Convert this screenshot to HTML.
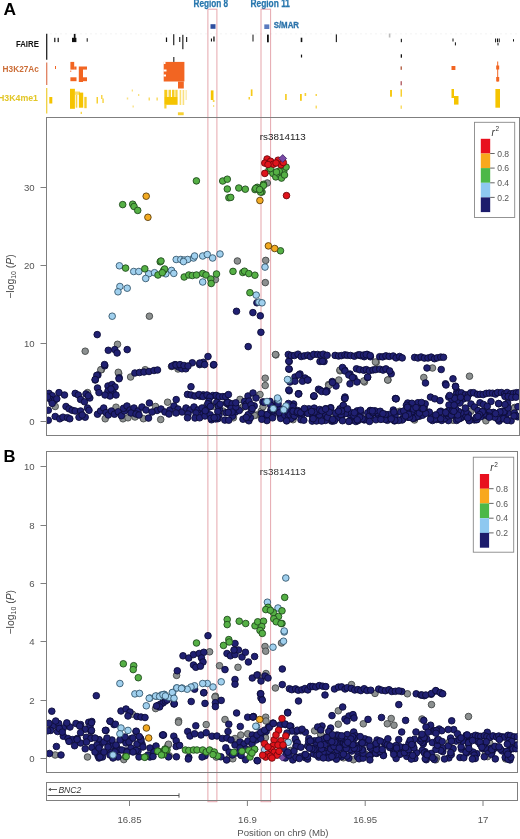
<!DOCTYPE html><html><head><meta charset="utf-8"><style>
html,body{margin:0;padding:0;background:#fff;}body{width:520px;height:839px;overflow:hidden;}
svg{display:block;filter:blur(0.35px);font-family:"Liberation Sans",sans-serif;}
.n{fill:#202072;stroke:#0c0c38;stroke-width:0.9}
.b{fill:#a0d0ee;stroke:#36586e;stroke-width:0.9}
.g{fill:#55b045;stroke:#204c1e;stroke-width:0.9}
.o{fill:#f2aa22;stroke:#5e400c;stroke-width:0.9}
.r{fill:#e0141c;stroke:#70080c;stroke-width:0.9}
.k{fill:#8c9090;stroke:#454848;stroke-width:0.9}
.ax{stroke:#7f7f7f;stroke-width:1;fill:none}
.tl{font-size:9.6px;fill:#555}
</style></head><body>
<svg width="520" height="839" viewBox="0 0 520 839">
<defs><clipPath id="cA"><rect x="47" y="118" width="472" height="318"/></clipPath><clipPath id="cB"><rect x="47" y="452" width="470.5" height="320.5"/></clipPath></defs>
<text x="3.4" y="15" font-size="17.4" font-weight="bold" fill="#000">A</text>
<text x="3.6" y="461.9" font-size="16.6" font-weight="bold" fill="#000">B</text>
<line x1="46.7" y1="33.8" x2="46.7" y2="59.8" stroke="#222" stroke-width="1.3"/>
<line x1="46.7" y1="62.5" x2="46.7" y2="85" stroke="#e08060" stroke-width="1.3"/>
<line x1="46.7" y1="88" x2="46.7" y2="113.5" stroke="#f0d040" stroke-width="1.3"/>
<text x="38.9" y="47.3" font-size="9.4" font-weight="bold" fill="#111" text-anchor="end" textLength="23" lengthAdjust="spacingAndGlyphs">FAIRE</text>
<text x="38.9" y="72.1" font-size="9.2" font-weight="bold" fill="#cc6e38" text-anchor="end" textLength="36.3" lengthAdjust="spacingAndGlyphs">H3K27Ac</text>
<text x="38" y="100.7" font-size="9.6" font-weight="bold" fill="#e2c626" text-anchor="end" textLength="40" lengthAdjust="spacingAndGlyphs">H3K4me1</text>
<line x1="50" y1="33.8" x2="519" y2="33.8" stroke="#f0f0f0" stroke-width="0.8" stroke-dasharray="2 3"/>
<rect x="54.2" y="37.8" width="1.2" height="4.3" fill="#111" opacity="1.00"/>
<rect x="57.6" y="37.8" width="1.2" height="4.3" fill="#111" opacity="1.00"/>
<rect x="73.8" y="33.9" width="1.7" height="4.1" fill="#111" opacity="1.00"/>
<rect x="86.7" y="38.2" width="1.0" height="3.5" fill="#111" opacity="1.00"/>
<rect x="165.9" y="37.5" width="1.2" height="4.5" fill="#111" opacity="1.00"/>
<rect x="173.2" y="34.2" width="1.1" height="11.0" fill="#111" opacity="1.00"/>
<rect x="179.2" y="37.0" width="1.1" height="5.0" fill="#111" opacity="1.00"/>
<rect x="182.3" y="34.8" width="1.1" height="14.4" fill="#111" opacity="1.00"/>
<rect x="186.1" y="37.0" width="1.1" height="5.0" fill="#111" opacity="1.00"/>
<rect x="210.9" y="38.5" width="1.1" height="3.0" fill="#111" opacity="1.00"/>
<rect x="213.3" y="36.5" width="1.3" height="5.0" fill="#111" opacity="1.00"/>
<rect x="252.5" y="34.6" width="1.0" height="6.9" fill="#111" opacity="1.00"/>
<rect x="267.0" y="34.6" width="1.8" height="7.7" fill="#111" opacity="1.00"/>
<rect x="300.7" y="37.7" width="1.6" height="4.4" fill="#111" opacity="1.00"/>
<rect x="300.9" y="54.6" width="1.2" height="2.9" fill="#111" opacity="1.00"/>
<rect x="335.8" y="34.4" width="1.1" height="7.7" fill="#111" opacity="1.00"/>
<rect x="400.8" y="38.8" width="1.1" height="3.4" fill="#111" opacity="1.00"/>
<rect x="400.7" y="54.3" width="1.3" height="3.4" fill="#111" opacity="1.00"/>
<rect x="452.5" y="38.5" width="1.0" height="3.0" fill="#111" opacity="1.00"/>
<rect x="454.9" y="42.3" width="1.0" height="3.1" fill="#111" opacity="1.00"/>
<rect x="495.1" y="38.5" width="1.0" height="3.8" fill="#111" opacity="1.00"/>
<rect x="497.0" y="38.5" width="1.0" height="3.8" fill="#111" opacity="1.00"/>
<rect x="498.7" y="38.5" width="1.0" height="3.8" fill="#111" opacity="1.00"/>
<rect x="497.5" y="43.0" width="1.0" height="2.4" fill="#111" opacity="1.00"/>
<rect x="513.0" y="39.2" width="1.0" height="2.3" fill="#111" opacity="1.00"/>
<rect x="72.0" y="37.8" width="4.4" height="4.3" fill="#111" opacity="1.00"/>
<rect x="388.8" y="33.5" width="1.6" height="4" fill="#bbb"/>
<rect x="55.0" y="66.0" width="1.0" height="3.0" fill="#f26522" opacity="1.00"/>
<rect x="70.4" y="61.9" width="3.8" height="7.7" fill="#f26522" opacity="1.00"/>
<rect x="74.2" y="66.5" width="2.3" height="3.1" fill="#f26522" opacity="1.00"/>
<rect x="78.8" y="66.5" width="4.2" height="15.5" fill="#f26522" opacity="1.00"/>
<rect x="83.0" y="66.5" width="4.0" height="3.1" fill="#f26522" opacity="1.00"/>
<rect x="70.4" y="77.3" width="6.1" height="3.9" fill="#f26522" opacity="1.00"/>
<rect x="83.0" y="77.3" width="4.0" height="3.9" fill="#f26522" opacity="1.00"/>
<rect x="70.4" y="70.5" width="0.8" height="1.5" fill="#f26522" opacity="1.00"/>
<rect x="163.7" y="61.9" width="20.7" height="19.6" fill="#f26522" opacity="1.00"/>
<rect x="178.0" y="81.5" width="5.8" height="7.0" fill="#f26522" opacity="1.00"/>
<rect x="451.5" y="66.0" width="3.9" height="4.0" fill="#f26522" opacity="1.00"/>
<rect x="496.2" y="65.5" width="3.0" height="4.0" fill="#f26522" opacity="1.00"/>
<rect x="496.2" y="77.0" width="3.0" height="4.5" fill="#f26522" opacity="1.00"/>
<rect x="497.2" y="61.5" width="1.0" height="20.0" fill="#f26522" opacity="1.00"/>
<rect x="163.5" y="69.5" width="3.0" height="2.0" fill="#fff" opacity="1.00"/>
<rect x="163.5" y="74.5" width="2.5" height="2.0" fill="#fff" opacity="1.00"/>
<rect x="163.5" y="61.5" width="2.0" height="2.5" fill="#fff" opacity="1.00"/>
<rect x="173.2" y="57.0" width="1.2" height="4.9" fill="#333" opacity="1.00"/>
<rect x="400.5" y="66.4" width="1.5" height="3.4" fill="#b86a50" opacity="1.00"/>
<rect x="400.5" y="81.2" width="1.5" height="4.1" fill="#b86a70" opacity="1.00"/>
<rect x="49.3" y="97.0" width="3.0" height="6.5" fill="#f5c400" opacity="1.00"/>
<rect x="70.0" y="88.8" width="4.9" height="20.0" fill="#f5c400" opacity="1.00"/>
<rect x="74.9" y="91.5" width="5.1" height="3.3" fill="#f5c400" opacity="0.60"/>
<rect x="75.7" y="94.8" width="1.6" height="12.9" fill="#f5c400" opacity="0.75"/>
<rect x="78.9" y="92.6" width="4.3" height="15.1" fill="#f5c400" opacity="1.00"/>
<rect x="84.3" y="96.9" width="2.4" height="11.3" fill="#f5c400" opacity="0.85"/>
<rect x="96.5" y="97.0" width="1.5" height="6.5" fill="#f5c400" opacity="0.80"/>
<rect x="101.0" y="95.0" width="1.5" height="4.0" fill="#f5c400" opacity="0.70"/>
<rect x="102.3" y="98.5" width="1.5" height="4.5" fill="#f5c400" opacity="0.70"/>
<rect x="126.8" y="97.5" width="1.4" height="2.0" fill="#f5c400" opacity="0.50"/>
<rect x="131.7" y="89.5" width="1.3" height="2.0" fill="#f5c400" opacity="0.50"/>
<rect x="132.5" y="105.5" width="1.3" height="2.0" fill="#f5c400" opacity="0.50"/>
<rect x="138.0" y="94.0" width="1.3" height="2.0" fill="#f5c400" opacity="0.50"/>
<rect x="80.6" y="111.8" width="1.4" height="2.2" fill="#f5c400" opacity="0.70"/>
<rect x="148.5" y="97.5" width="1.5" height="3.0" fill="#f5c400" opacity="0.60"/>
<rect x="156.4" y="97.5" width="1.5" height="3.0" fill="#f5c400" opacity="0.60"/>
<rect x="164.3" y="97.0" width="13.3" height="7.8" fill="#f5c400" opacity="1.00"/>
<rect x="164.3" y="89.8" width="3.0" height="7.2" fill="#f5c400" opacity="0.90"/>
<rect x="168.5" y="89.8" width="2.5" height="7.2" fill="#f5c400" opacity="0.80"/>
<rect x="172.0" y="89.8" width="2.5" height="7.2" fill="#f5c400" opacity="0.85"/>
<rect x="175.3" y="89.8" width="2.3" height="7.2" fill="#f5c400" opacity="0.75"/>
<rect x="164.3" y="104.8" width="2.2" height="3.7" fill="#f5c400" opacity="0.80"/>
<rect x="179.6" y="90.0" width="1.6" height="15.0" fill="#f5c400" opacity="0.55"/>
<rect x="182.6" y="90.0" width="1.6" height="15.0" fill="#f5c400" opacity="0.50"/>
<rect x="185.4" y="90.0" width="1.6" height="10.0" fill="#f5c400" opacity="0.30"/>
<rect x="177.9" y="112.3" width="5.8" height="2.9" fill="#f5c400" opacity="0.80"/>
<rect x="210.8" y="90.4" width="2.7" height="9.6" fill="#f5c400" opacity="1.00"/>
<rect x="212.8" y="100.0" width="1.7" height="2.0" fill="#f5c400" opacity="0.70"/>
<rect x="250.8" y="89.4" width="1.7" height="6.6" fill="#f5c400" opacity="0.90"/>
<rect x="248.5" y="97.0" width="1.5" height="2.5" fill="#f5c400" opacity="0.80"/>
<rect x="213.0" y="105.0" width="1.2" height="2.0" fill="#f5c400" opacity="0.50"/>
<rect x="285.0" y="94.0" width="1.8" height="6.0" fill="#f5c400" opacity="0.80"/>
<rect x="300.0" y="94.0" width="1.8" height="6.8" fill="#f5c400" opacity="0.90"/>
<rect x="304.6" y="93.0" width="1.6" height="3.0" fill="#f5c400" opacity="0.80"/>
<rect x="315.5" y="94.0" width="1.5" height="2.0" fill="#f5c400" opacity="0.70"/>
<rect x="315.5" y="105.6" width="1.5" height="2.9" fill="#f5c400" opacity="0.60"/>
<rect x="390.0" y="90.0" width="2.0" height="6.7" fill="#f5c400" opacity="0.90"/>
<rect x="400.5" y="89.3" width="1.5" height="7.4" fill="#f5c400" opacity="0.80"/>
<rect x="400.5" y="105.5" width="1.5" height="3.3" fill="#f5c400" opacity="0.60"/>
<rect x="451.5" y="89.0" width="2.5" height="9.0" fill="#f5c400" opacity="1.00"/>
<rect x="454.0" y="96.0" width="4.5" height="8.6" fill="#f5c400" opacity="1.00"/>
<rect x="495.4" y="89.0" width="4.6" height="18.7" fill="#f5c400" opacity="1.00"/>
<text x="193.5" y="6.5" font-size="10" font-weight="bold" fill="#2676ad" stroke="#2676ad" stroke-width="0.25" textLength="34.7" lengthAdjust="spacingAndGlyphs">Region 8</text>
<text x="250.5" y="6.5" font-size="10" font-weight="bold" fill="#2676ad" stroke="#2676ad" stroke-width="0.25" textLength="39.5" lengthAdjust="spacingAndGlyphs">Region 11</text>
<rect x="210.5" y="24.2" width="5" height="4.6" fill="#2f4fa0"/>
<rect x="264.3" y="24.4" width="5" height="4.6" fill="#5b7bbf"/>
<text x="273.7" y="28.3" font-size="8.5" font-weight="bold" fill="#2a72aa" stroke="#2a72aa" stroke-width="0.3" textLength="25.3" lengthAdjust="spacingAndGlyphs">S/MAR</text>
<rect x="207.9" y="9.2" width="9.0" height="792.5" fill="none" stroke="#dc8892" stroke-width="1" opacity="0.75"/>
<rect x="261.0" y="9.2" width="9.6" height="792.5" fill="none" stroke="#dc8892" stroke-width="1" opacity="0.75"/>
<rect class="ax" x="46.5" y="117.5" width="473" height="318"/>
<line class="ax" x1="40.5" y1="421.5" x2="46.5" y2="421.5"/>
<text class="tl" x="34.6" y="424.6" text-anchor="end">0</text>
<line class="ax" x1="40.5" y1="343.5" x2="46.5" y2="343.5"/>
<text class="tl" x="34.6" y="346.6" text-anchor="end">10</text>
<line class="ax" x1="40.5" y1="265.5" x2="46.5" y2="265.5"/>
<text class="tl" x="34.6" y="268.6" text-anchor="end">20</text>
<line class="ax" x1="40.5" y1="187.5" x2="46.5" y2="187.5"/>
<text class="tl" x="34.6" y="190.6" text-anchor="end">30</text>
<text x="0" y="0" font-size="10.4" fill="#444" transform="translate(13.5,276.5) rotate(-90)" text-anchor="middle">&#8722;log<tspan font-size="7" dy="2.2">10</tspan><tspan dy="-2.2"> (</tspan><tspan font-style="italic">P</tspan>)</text>
<g clip-path="url(#cA)"><circle class="k" cx="267.3" cy="183.0" r="3.3"/><circle class="k" cx="215.4" cy="279.6" r="3.3"/><circle class="k" cx="237.4" cy="261.0" r="3.3"/><circle class="k" cx="265.7" cy="260.4" r="3.3"/><circle class="k" cx="265.3" cy="282.6" r="3.3"/><circle class="k" cx="149.4" cy="316.2" r="3.3"/><circle class="k" cx="85.2" cy="351.2" r="3.3"/><circle class="k" cx="117.5" cy="344.3" r="3.3"/><circle class="k" cx="101.4" cy="369.7" r="3.3"/><circle class="k" cx="118.7" cy="373.4" r="3.3"/><circle class="k" cx="145.2" cy="369.7" r="3.3"/><circle class="k" cx="275.9" cy="354.9" r="3.3"/><circle class="k" cx="171.5" cy="366.5" r="3.3"/><circle class="k" cx="178.0" cy="369.0" r="3.3"/><circle class="k" cx="100.8" cy="369.8" r="3.3"/><circle class="k" cx="118.3" cy="372.3" r="3.3"/><circle class="k" cx="130.6" cy="377.0" r="3.3"/><circle class="k" cx="265.2" cy="378.2" r="3.3"/><circle class="k" cx="265.2" cy="385.5" r="3.3"/><circle class="k" cx="340.0" cy="370.8" r="3.3"/><circle class="k" cx="328.6" cy="384.6" r="3.3"/><circle class="k" cx="240.0" cy="399.4" r="3.3"/><circle class="k" cx="260.0" cy="394.5" r="3.3"/><circle class="k" cx="275.5" cy="354.5" r="3.3"/><circle class="k" cx="376.2" cy="362.5" r="3.3"/><circle class="k" cx="340.0" cy="370.0" r="3.3"/><circle class="k" cx="364.5" cy="382.0" r="3.3"/><circle class="k" cx="388.0" cy="380.0" r="3.3"/><circle class="k" cx="338.8" cy="380.0" r="3.3"/><circle class="k" cx="328.8" cy="385.5" r="3.3"/><circle class="k" cx="375.4" cy="362.0" r="3.3"/><circle class="k" cx="363.7" cy="381.0" r="3.3"/><circle class="k" cx="387.7" cy="380.0" r="3.3"/><circle class="k" cx="432.5" cy="368.0" r="3.3"/><circle class="k" cx="423.8" cy="377.5" r="3.3"/><circle class="k" cx="469.5" cy="376.2" r="3.3"/><circle class="k" cx="514.5" cy="407.5" r="3.3"/><circle class="k" cx="55.2" cy="406.5" r="3.3"/><circle class="k" cx="87.5" cy="392.6" r="3.3"/><circle class="k" cx="105.2" cy="418.8" r="3.3"/><circle class="k" cx="116.0" cy="407.2" r="3.3"/><circle class="k" cx="123.0" cy="418.8" r="3.3"/><circle class="k" cx="167.6" cy="402.2" r="3.3"/><circle class="k" cx="155.5" cy="406.5" r="3.3"/><circle class="k" cx="128.0" cy="417.8" r="3.3"/><circle class="k" cx="135.0" cy="417.0" r="3.3"/><circle class="k" cx="143.4" cy="418.7" r="3.3"/><circle class="k" cx="160.7" cy="419.5" r="3.3"/><circle class="k" cx="514.3" cy="408.4" r="3.3"/><circle class="k" cx="211.5" cy="405.8" r="3.3"/><circle class="k" cx="261.2" cy="411.2" r="3.3"/><circle class="k" cx="214.4" cy="406.3" r="3.3"/><circle class="k" cx="256.4" cy="415.0" r="3.3"/><circle class="k" cx="206.6" cy="406.0" r="3.3"/><circle class="k" cx="247.7" cy="419.7" r="3.3"/><circle class="k" cx="241.4" cy="408.0" r="3.3"/><circle class="k" cx="228.0" cy="404.3" r="3.3"/><circle class="k" cx="232.9" cy="408.1" r="3.3"/><circle class="k" cx="223.1" cy="411.1" r="3.3"/><circle class="k" cx="260.5" cy="413.9" r="3.3"/><circle class="k" cx="232.4" cy="412.4" r="3.3"/><circle class="k" cx="293.0" cy="419.7" r="3.3"/><circle class="k" cx="285.8" cy="410.7" r="3.3"/><circle class="k" cx="233.4" cy="417.8" r="3.3"/><circle class="k" cx="243.5" cy="406.5" r="3.3"/><circle class="k" cx="254.4" cy="415.4" r="3.3"/><circle class="k" cx="263.0" cy="406.7" r="3.3"/><circle class="k" cx="217.6" cy="404.8" r="3.3"/><circle class="k" cx="331.2" cy="416.6" r="3.3"/><circle class="k" cx="302.8" cy="411.1" r="3.3"/><circle class="k" cx="363.1" cy="418.9" r="3.3"/><circle class="k" cx="318.5" cy="413.5" r="3.3"/><circle class="k" cx="312.3" cy="411.2" r="3.3"/><circle class="k" cx="450.3" cy="414.2" r="3.3"/><circle class="k" cx="470.8" cy="411.2" r="3.3"/><circle class="k" cx="414.5" cy="420.0" r="3.3"/><circle class="k" cx="388.1" cy="418.8" r="3.3"/><circle class="k" cx="423.0" cy="414.0" r="3.3"/><circle class="k" cx="506.6" cy="412.4" r="3.3"/><circle class="k" cx="399.7" cy="411.3" r="3.3"/><circle class="k" cx="408.6" cy="412.1" r="3.3"/><circle class="k" cx="485.9" cy="420.8" r="3.3"/><circle class="k" cx="406.1" cy="409.9" r="3.3"/><circle class="k" cx="409.0" cy="405.2" r="3.3"/><circle class="k" cx="453.2" cy="420.3" r="3.3"/><circle class="n" cx="256.9" cy="302.8" r="3.3"/><circle class="n" cx="236.5" cy="311.3" r="3.3"/><circle class="n" cx="252.9" cy="312.6" r="3.3"/><circle class="n" cx="260.3" cy="315.8" r="3.3"/><circle class="n" cx="97.2" cy="334.6" r="3.3"/><circle class="n" cx="108.3" cy="350.3" r="3.3"/><circle class="n" cx="114.8" cy="349.6" r="3.3"/><circle class="n" cx="117.1" cy="353.0" r="3.3"/><circle class="n" cx="127.2" cy="349.6" r="3.3"/><circle class="n" cx="104.8" cy="365.8" r="3.3"/><circle class="n" cx="97.9" cy="375.0" r="3.3"/><circle class="n" cx="134.9" cy="373.0" r="3.3"/><circle class="n" cx="139.5" cy="372.5" r="3.3"/><circle class="n" cx="144.0" cy="372.0" r="3.3"/><circle class="n" cx="149.0" cy="371.5" r="3.3"/><circle class="n" cx="154.0" cy="370.5" r="3.3"/><circle class="n" cx="157.5" cy="370.0" r="3.3"/><circle class="n" cx="260.9" cy="332.3" r="3.3"/><circle class="n" cx="248.2" cy="346.6" r="3.3"/><circle class="n" cx="175.0" cy="364.6" r="3.3"/><circle class="n" cx="178.5" cy="367.0" r="3.3"/><circle class="n" cx="182.0" cy="368.8" r="3.3"/><circle class="n" cx="185.8" cy="368.8" r="3.3"/><circle class="n" cx="192.3" cy="362.8" r="3.3"/><circle class="n" cx="199.7" cy="364.6" r="3.3"/><circle class="n" cx="203.4" cy="362.3" r="3.3"/><circle class="n" cx="208.0" cy="356.5" r="3.3"/><circle class="n" cx="213.5" cy="365.0" r="3.3"/><circle class="n" cx="104.5" cy="364.6" r="3.3"/><circle class="n" cx="96.8" cy="375.4" r="3.3"/><circle class="n" cx="95.2" cy="380.0" r="3.3"/><circle class="n" cx="119.2" cy="377.8" r="3.3"/><circle class="n" cx="172.0" cy="366.0" r="3.3"/><circle class="n" cx="176.0" cy="365.0" r="3.3"/><circle class="n" cx="180.0" cy="364.6" r="3.3"/><circle class="n" cx="184.0" cy="365.5" r="3.3"/><circle class="n" cx="188.0" cy="366.0" r="3.3"/><circle class="n" cx="199.8" cy="363.0" r="3.3"/><circle class="n" cx="204.6" cy="364.6" r="3.3"/><circle class="n" cx="213.8" cy="364.6" r="3.3"/><circle class="n" cx="289.2" cy="361.5" r="3.3"/><circle class="n" cx="289.2" cy="369.2" r="3.3"/><circle class="n" cx="295.0" cy="377.0" r="3.3"/><circle class="n" cx="300.0" cy="374.0" r="3.3"/><circle class="n" cx="305.0" cy="378.0" r="3.3"/><circle class="n" cx="308.0" cy="380.0" r="3.3"/><circle class="n" cx="289.2" cy="390.8" r="3.3"/><circle class="n" cx="298.5" cy="393.8" r="3.3"/><circle class="n" cx="320.0" cy="361.5" r="3.3"/><circle class="n" cx="324.0" cy="361.5" r="3.3"/><circle class="n" cx="344.6" cy="370.0" r="3.3"/><circle class="n" cx="350.0" cy="374.0" r="3.3"/><circle class="n" cx="354.0" cy="378.0" r="3.3"/><circle class="n" cx="357.0" cy="382.0" r="3.3"/><circle class="n" cx="318.5" cy="389.2" r="3.3"/><circle class="n" cx="326.0" cy="390.8" r="3.3"/><circle class="n" cx="313.8" cy="396.3" r="3.3"/><circle class="n" cx="332.3" cy="381.5" r="3.3"/><circle class="n" cx="336.0" cy="386.0" r="3.3"/><circle class="n" cx="344.6" cy="398.5" r="3.3"/><circle class="n" cx="330.8" cy="407.7" r="3.3"/><circle class="n" cx="343.0" cy="406.0" r="3.3"/><circle class="n" cx="248.0" cy="396.0" r="3.3"/><circle class="n" cx="253.0" cy="393.0" r="3.3"/><circle class="n" cx="256.0" cy="398.0" r="3.3"/><circle class="n" cx="288.8" cy="361.2" r="3.3"/><circle class="n" cx="288.8" cy="368.8" r="3.3"/><circle class="n" cx="322.5" cy="361.2" r="3.3"/><circle class="n" cx="342.5" cy="367.5" r="3.3"/><circle class="n" cx="345.0" cy="371.0" r="3.3"/><circle class="n" cx="348.8" cy="375.0" r="3.3"/><circle class="n" cx="352.5" cy="377.5" r="3.3"/><circle class="n" cx="367.5" cy="377.5" r="3.3"/><circle class="n" cx="290.0" cy="382.0" r="3.3"/><circle class="n" cx="298.8" cy="375.0" r="3.3"/><circle class="n" cx="295.0" cy="381.2" r="3.3"/><circle class="n" cx="302.5" cy="381.2" r="3.3"/><circle class="n" cx="307.5" cy="380.0" r="3.3"/><circle class="n" cx="332.5" cy="382.5" r="3.3"/><circle class="n" cx="350.0" cy="383.8" r="3.3"/><circle class="n" cx="288.8" cy="390.0" r="3.3"/><circle class="n" cx="298.8" cy="393.8" r="3.3"/><circle class="n" cx="313.8" cy="396.2" r="3.3"/><circle class="n" cx="320.0" cy="390.0" r="3.3"/><circle class="n" cx="327.0" cy="391.2" r="3.3"/><circle class="n" cx="345.0" cy="397.0" r="3.3"/><circle class="n" cx="367.7" cy="377.0" r="3.3"/><circle class="n" cx="427.0" cy="368.0" r="3.3"/><circle class="n" cx="441.2" cy="369.5" r="3.3"/><circle class="n" cx="391.2" cy="373.8" r="3.3"/><circle class="n" cx="425.5" cy="383.0" r="3.3"/><circle class="n" cx="445.5" cy="383.8" r="3.3"/><circle class="n" cx="453.0" cy="378.8" r="3.3"/><circle class="n" cx="455.5" cy="386.2" r="3.3"/><circle class="n" cx="457.0" cy="391.2" r="3.3"/><circle class="n" cx="396.2" cy="398.8" r="3.3"/><circle class="n" cx="498.8" cy="403.8" r="3.3"/><circle class="n" cx="395.4" cy="398.5" r="3.3"/><circle class="n" cx="288.3" cy="354.5" r="3.3"/><circle class="n" cx="291.2" cy="355.6" r="3.3"/><circle class="n" cx="294.4" cy="355.5" r="3.3"/><circle class="n" cx="298.0" cy="354.2" r="3.3"/><circle class="n" cx="301.2" cy="356.5" r="3.3"/><circle class="n" cx="304.2" cy="355.9" r="3.3"/><circle class="n" cx="307.8" cy="355.2" r="3.3"/><circle class="n" cx="310.4" cy="356.6" r="3.3"/><circle class="n" cx="313.7" cy="354.4" r="3.3"/><circle class="n" cx="317.7" cy="354.5" r="3.3"/><circle class="n" cx="320.7" cy="355.1" r="3.3"/><circle class="n" cx="323.2" cy="354.2" r="3.3"/><circle class="n" cx="327.1" cy="355.3" r="3.3"/><circle class="n" cx="335.1" cy="355.4" r="3.3"/><circle class="n" cx="338.6" cy="356.0" r="3.3"/><circle class="n" cx="341.5" cy="355.6" r="3.3"/><circle class="n" cx="344.9" cy="354.9" r="3.3"/><circle class="n" cx="347.3" cy="355.3" r="3.3"/><circle class="n" cx="350.6" cy="355.5" r="3.3"/><circle class="n" cx="354.4" cy="356.2" r="3.3"/><circle class="n" cx="357.9" cy="355.0" r="3.3"/><circle class="n" cx="360.7" cy="355.7" r="3.3"/><circle class="n" cx="364.2" cy="356.7" r="3.3"/><circle class="n" cx="367.2" cy="354.4" r="3.3"/><circle class="n" cx="370.4" cy="356.8" r="3.3"/><circle class="n" cx="379.7" cy="356.7" r="3.3"/><circle class="n" cx="382.6" cy="356.9" r="3.3"/><circle class="n" cx="385.9" cy="355.9" r="3.3"/><circle class="n" cx="389.2" cy="356.4" r="3.3"/><circle class="n" cx="393.2" cy="356.0" r="3.3"/><circle class="n" cx="396.1" cy="357.9" r="3.3"/><circle class="n" cx="399.6" cy="356.5" r="3.3"/><circle class="n" cx="402.2" cy="357.9" r="3.3"/><circle class="n" cx="414.6" cy="357.4" r="3.3"/><circle class="n" cx="417.9" cy="358.0" r="3.3"/><circle class="n" cx="421.1" cy="357.0" r="3.3"/><circle class="n" cx="424.4" cy="358.1" r="3.3"/><circle class="n" cx="428.0" cy="358.0" r="3.3"/><circle class="n" cx="431.2" cy="357.1" r="3.3"/><circle class="n" cx="434.5" cy="358.7" r="3.3"/><circle class="n" cx="437.3" cy="357.8" r="3.3"/><circle class="n" cx="440.8" cy="357.1" r="3.3"/><circle class="n" cx="443.5" cy="357.3" r="3.3"/><circle class="n" cx="356.5" cy="368.8" r="3.3"/><circle class="n" cx="359.7" cy="369.7" r="3.3"/><circle class="n" cx="363.8" cy="370.3" r="3.3"/><circle class="n" cx="366.3" cy="369.6" r="3.3"/><circle class="n" cx="369.3" cy="370.8" r="3.3"/><circle class="n" cx="373.0" cy="370.0" r="3.3"/><circle class="n" cx="375.7" cy="369.6" r="3.3"/><circle class="n" cx="379.8" cy="369.2" r="3.3"/><circle class="n" cx="383.1" cy="370.1" r="3.3"/><circle class="n" cx="385.9" cy="368.9" r="3.3"/><circle class="n" cx="389.6" cy="370.9" r="3.3"/><circle class="n" cx="359.7" cy="354.8" r="3.3"/><circle class="n" cx="363.5" cy="355.1" r="3.3"/><circle class="n" cx="366.2" cy="354.6" r="3.3"/><circle class="n" cx="370.2" cy="355.6" r="3.3"/><circle class="n" cx="456.4" cy="394.1" r="3.3"/><circle class="n" cx="459.0" cy="393.1" r="3.3"/><circle class="n" cx="461.4" cy="392.9" r="3.3"/><circle class="n" cx="465.2" cy="394.7" r="3.3"/><circle class="n" cx="468.5" cy="394.8" r="3.3"/><circle class="n" cx="470.8" cy="392.8" r="3.3"/><circle class="n" cx="473.6" cy="392.7" r="3.3"/><circle class="n" cx="477.5" cy="394.4" r="3.3"/><circle class="n" cx="480.2" cy="394.3" r="3.3"/><circle class="n" cx="483.2" cy="394.6" r="3.3"/><circle class="n" cx="486.3" cy="393.4" r="3.3"/><circle class="n" cx="489.3" cy="393.1" r="3.3"/><circle class="n" cx="492.6" cy="393.2" r="3.3"/><circle class="n" cx="495.5" cy="394.1" r="3.3"/><circle class="n" cx="497.6" cy="392.6" r="3.3"/><circle class="n" cx="501.4" cy="392.6" r="3.3"/><circle class="n" cx="504.6" cy="393.9" r="3.3"/><circle class="n" cx="507.1" cy="392.5" r="3.3"/><circle class="n" cx="510.6" cy="393.9" r="3.3"/><circle class="n" cx="513.5" cy="393.3" r="3.3"/><circle class="n" cx="516.4" cy="392.7" r="3.3"/><circle class="n" cx="518.8" cy="392.8" r="3.3"/><circle class="n" cx="455.7" cy="397.8" r="3.3"/><circle class="n" cx="460.1" cy="397.6" r="3.3"/><circle class="n" cx="463.3" cy="399.0" r="3.3"/><circle class="n" cx="467.3" cy="398.0" r="3.3"/><circle class="n" cx="505.0" cy="396.5" r="3.3"/><circle class="n" cx="508.2" cy="396.5" r="3.3"/><circle class="n" cx="511.8" cy="397.4" r="3.3"/><circle class="n" cx="515.9" cy="397.2" r="3.3"/><circle class="n" cx="200.1" cy="396.2" r="3.3"/><circle class="n" cx="203.3" cy="394.9" r="3.3"/><circle class="n" cx="206.7" cy="395.5" r="3.3"/><circle class="n" cx="209.9" cy="396.5" r="3.3"/><circle class="n" cx="212.9" cy="395.5" r="3.3"/><circle class="n" cx="216.2" cy="395.4" r="3.3"/><circle class="n" cx="219.2" cy="396.6" r="3.3"/><circle class="n" cx="222.9" cy="396.6" r="3.3"/><circle class="n" cx="225.7" cy="396.6" r="3.3"/><circle class="n" cx="228.4" cy="394.6" r="3.3"/><circle class="n" cx="95.2" cy="379.5" r="3.3"/><circle class="n" cx="119.0" cy="378.8" r="3.3"/><circle class="n" cx="97.5" cy="388.0" r="3.3"/><circle class="n" cx="99.0" cy="392.6" r="3.3"/><circle class="n" cx="108.0" cy="386.0" r="3.3"/><circle class="n" cx="112.0" cy="384.5" r="3.3"/><circle class="n" cx="115.0" cy="387.0" r="3.3"/><circle class="n" cx="108.0" cy="391.0" r="3.3"/><circle class="n" cx="113.0" cy="392.0" r="3.3"/><circle class="n" cx="110.0" cy="396.0" r="3.3"/><circle class="n" cx="116.0" cy="395.0" r="3.3"/><circle class="n" cx="105.0" cy="395.0" r="3.3"/><circle class="n" cx="111.0" cy="389.0" r="3.3"/><circle class="n" cx="49.0" cy="393.4" r="3.3"/><circle class="n" cx="52.2" cy="395.7" r="3.3"/><circle class="n" cx="50.6" cy="399.5" r="3.3"/><circle class="n" cx="54.5" cy="400.3" r="3.3"/><circle class="n" cx="56.8" cy="398.8" r="3.3"/><circle class="n" cx="59.0" cy="392.6" r="3.3"/><circle class="n" cx="64.5" cy="395.0" r="3.3"/><circle class="n" cx="52.2" cy="403.4" r="3.3"/><circle class="n" cx="47.5" cy="397.0" r="3.3"/><circle class="n" cx="75.2" cy="393.4" r="3.3"/><circle class="n" cx="78.3" cy="395.0" r="3.3"/><circle class="n" cx="86.0" cy="394.0" r="3.3"/><circle class="n" cx="80.6" cy="399.5" r="3.3"/><circle class="n" cx="84.5" cy="401.8" r="3.3"/><circle class="n" cx="89.8" cy="398.0" r="3.3"/><circle class="n" cx="88.3" cy="395.7" r="3.3"/><circle class="n" cx="48.3" cy="410.3" r="3.3"/><circle class="n" cx="66.0" cy="406.5" r="3.3"/><circle class="n" cx="69.0" cy="408.8" r="3.3"/><circle class="n" cx="72.2" cy="410.3" r="3.3"/><circle class="n" cx="75.2" cy="411.0" r="3.3"/><circle class="n" cx="80.6" cy="411.0" r="3.3"/><circle class="n" cx="87.5" cy="408.0" r="3.3"/><circle class="n" cx="89.0" cy="410.3" r="3.3"/><circle class="n" cx="48.3" cy="420.3" r="3.3"/><circle class="n" cx="55.2" cy="416.5" r="3.3"/><circle class="n" cx="59.8" cy="418.8" r="3.3"/><circle class="n" cx="63.0" cy="417.2" r="3.3"/><circle class="n" cx="67.5" cy="417.7" r="3.3"/><circle class="n" cx="69.8" cy="418.8" r="3.3"/><circle class="n" cx="79.0" cy="417.2" r="3.3"/><circle class="n" cx="85.2" cy="417.2" r="3.3"/><circle class="n" cx="82.2" cy="415.0" r="3.3"/><circle class="n" cx="97.5" cy="414.2" r="3.3"/><circle class="n" cx="100.6" cy="411.0" r="3.3"/><circle class="n" cx="103.7" cy="408.0" r="3.3"/><circle class="n" cx="106.0" cy="412.6" r="3.3"/><circle class="n" cx="108.3" cy="415.0" r="3.3"/><circle class="n" cx="111.4" cy="411.0" r="3.3"/><circle class="n" cx="114.5" cy="414.2" r="3.3"/><circle class="n" cx="118.3" cy="411.8" r="3.3"/><circle class="n" cx="121.4" cy="415.7" r="3.3"/><circle class="n" cx="124.5" cy="411.0" r="3.3"/><circle class="n" cx="191.0" cy="386.7" r="3.3"/><circle class="n" cx="187.5" cy="394.4" r="3.3"/><circle class="n" cx="191.0" cy="395.0" r="3.3"/><circle class="n" cx="195.0" cy="396.0" r="3.3"/><circle class="n" cx="199.0" cy="394.5" r="3.3"/><circle class="n" cx="203.0" cy="396.5" r="3.3"/><circle class="n" cx="207.0" cy="395.0" r="3.3"/><circle class="n" cx="210.0" cy="397.0" r="3.3"/><circle class="n" cx="149.4" cy="403.0" r="3.3"/><circle class="n" cx="176.2" cy="399.6" r="3.3"/><circle class="n" cx="123.5" cy="408.3" r="3.3"/><circle class="n" cx="127.0" cy="406.0" r="3.3"/><circle class="n" cx="130.0" cy="410.0" r="3.3"/><circle class="n" cx="134.0" cy="408.0" r="3.3"/><circle class="n" cx="138.0" cy="411.0" r="3.3"/><circle class="n" cx="142.0" cy="407.0" r="3.3"/><circle class="n" cx="146.0" cy="410.0" r="3.3"/><circle class="n" cx="157.0" cy="410.5" r="3.3"/><circle class="n" cx="161.0" cy="409.0" r="3.3"/><circle class="n" cx="165.0" cy="412.0" r="3.3"/><circle class="n" cx="170.0" cy="410.0" r="3.3"/><circle class="n" cx="174.0" cy="406.0" r="3.3"/><circle class="n" cx="178.0" cy="409.0" r="3.3"/><circle class="n" cx="182.0" cy="412.0" r="3.3"/><circle class="n" cx="186.0" cy="408.0" r="3.3"/><circle class="n" cx="190.0" cy="410.0" r="3.3"/><circle class="n" cx="194.0" cy="407.0" r="3.3"/><circle class="n" cx="198.0" cy="410.0" r="3.3"/><circle class="n" cx="202.0" cy="408.0" r="3.3"/><circle class="n" cx="206.0" cy="411.0" r="3.3"/><circle class="n" cx="209.0" cy="407.0" r="3.3"/><circle class="n" cx="131.0" cy="413.0" r="3.3"/><circle class="n" cx="136.0" cy="414.0" r="3.3"/><circle class="n" cx="152.0" cy="412.0" r="3.3"/><circle class="n" cx="169.0" cy="414.0" r="3.3"/><circle class="n" cx="176.0" cy="413.0" r="3.3"/><circle class="n" cx="188.0" cy="414.0" r="3.3"/><circle class="n" cx="196.0" cy="413.0" r="3.3"/><circle class="n" cx="203.0" cy="414.0" r="3.3"/><circle class="n" cx="139.0" cy="415.0" r="3.3"/><circle class="n" cx="148.5" cy="418.1" r="3.3"/><circle class="n" cx="187.5" cy="417.8" r="3.3"/><circle class="n" cx="195.0" cy="418.0" r="3.3"/><circle class="n" cx="199.6" cy="417.8" r="3.3"/><circle class="n" cx="205.0" cy="416.0" r="3.3"/><circle class="n" cx="298.4" cy="394.0" r="3.3"/><circle class="n" cx="314.0" cy="395.8" r="3.3"/><circle class="n" cx="321.7" cy="391.5" r="3.3"/><circle class="n" cx="326.0" cy="392.0" r="3.3"/><circle class="n" cx="345.0" cy="398.4" r="3.3"/><circle class="n" cx="330.4" cy="408.0" r="3.3"/><circle class="n" cx="340.0" cy="408.8" r="3.3"/><circle class="n" cx="343.4" cy="405.3" r="3.3"/><circle class="n" cx="308.8" cy="408.8" r="3.3"/><circle class="n" cx="297.5" cy="410.5" r="3.3"/><circle class="n" cx="370.2" cy="410.5" r="3.3"/><circle class="n" cx="395.9" cy="398.8" r="3.3"/><circle class="n" cx="393.3" cy="410.0" r="3.3"/><circle class="n" cx="430.5" cy="397.1" r="3.3"/><circle class="n" cx="434.8" cy="398.8" r="3.3"/><circle class="n" cx="440.0" cy="400.6" r="3.3"/><circle class="n" cx="448.7" cy="397.1" r="3.3"/><circle class="n" cx="452.0" cy="399.7" r="3.3"/><circle class="n" cx="455.6" cy="386.7" r="3.3"/><circle class="n" cx="446.0" cy="385.0" r="3.3"/><circle class="n" cx="498.6" cy="403.5" r="3.3"/><circle class="n" cx="480.0" cy="402.8" r="3.3"/><circle class="n" cx="483.5" cy="404.5" r="3.3"/><circle class="n" cx="491.0" cy="401.5" r="3.3"/><circle class="n" cx="471.0" cy="404.0" r="3.3"/><circle class="n" cx="449.0" cy="405.0" r="3.3"/><circle class="n" cx="460.0" cy="403.0" r="3.3"/><circle class="n" cx="474.5" cy="407.0" r="3.3"/><circle class="n" cx="487.3" cy="406.3" r="3.3"/><circle class="n" cx="478.0" cy="410.6" r="3.3"/><circle class="n" cx="265.3" cy="416.7" r="3.3"/><circle class="n" cx="218.9" cy="415.3" r="3.3"/><circle class="n" cx="217.9" cy="418.7" r="3.3"/><circle class="n" cx="224.8" cy="420.1" r="3.3"/><circle class="n" cx="248.9" cy="420.8" r="3.3"/><circle class="n" cx="219.5" cy="409.6" r="3.3"/><circle class="n" cx="235.5" cy="404.9" r="3.3"/><circle class="n" cx="270.0" cy="401.4" r="3.3"/><circle class="n" cx="244.6" cy="401.4" r="3.3"/><circle class="n" cx="293.7" cy="416.8" r="3.3"/><circle class="n" cx="275.1" cy="406.4" r="3.3"/><circle class="n" cx="243.0" cy="419.2" r="3.3"/><circle class="n" cx="228.3" cy="404.0" r="3.3"/><circle class="n" cx="210.2" cy="414.8" r="3.3"/><circle class="n" cx="211.5" cy="419.8" r="3.3"/><circle class="n" cx="277.1" cy="402.7" r="3.3"/><circle class="n" cx="211.0" cy="418.3" r="3.3"/><circle class="n" cx="235.5" cy="412.1" r="3.3"/><circle class="n" cx="229.1" cy="403.6" r="3.3"/><circle class="n" cx="226.5" cy="403.2" r="3.3"/><circle class="n" cx="209.5" cy="405.0" r="3.3"/><circle class="n" cx="232.5" cy="416.2" r="3.3"/><circle class="n" cx="250.0" cy="404.6" r="3.3"/><circle class="n" cx="271.0" cy="412.0" r="3.3"/><circle class="n" cx="278.7" cy="409.6" r="3.3"/><circle class="n" cx="280.1" cy="408.9" r="3.3"/><circle class="n" cx="266.9" cy="420.6" r="3.3"/><circle class="n" cx="279.9" cy="415.1" r="3.3"/><circle class="n" cx="216.7" cy="402.4" r="3.3"/><circle class="n" cx="280.7" cy="418.4" r="3.3"/><circle class="n" cx="230.4" cy="405.8" r="3.3"/><circle class="n" cx="246.4" cy="404.2" r="3.3"/><circle class="n" cx="228.7" cy="420.2" r="3.3"/><circle class="n" cx="254.2" cy="405.9" r="3.3"/><circle class="n" cx="239.3" cy="410.5" r="3.3"/><circle class="n" cx="228.8" cy="402.8" r="3.3"/><circle class="n" cx="208.8" cy="401.4" r="3.3"/><circle class="n" cx="226.0" cy="412.7" r="3.3"/><circle class="n" cx="272.5" cy="414.2" r="3.3"/><circle class="n" cx="284.1" cy="408.8" r="3.3"/><circle class="n" cx="293.6" cy="404.0" r="3.3"/><circle class="n" cx="262.9" cy="401.9" r="3.3"/><circle class="n" cx="285.3" cy="413.5" r="3.3"/><circle class="n" cx="278.1" cy="403.8" r="3.3"/><circle class="n" cx="250.4" cy="417.7" r="3.3"/><circle class="n" cx="279.4" cy="412.7" r="3.3"/><circle class="n" cx="266.5" cy="414.9" r="3.3"/><circle class="n" cx="207.8" cy="403.7" r="3.3"/><circle class="n" cx="214.4" cy="417.7" r="3.3"/><circle class="n" cx="261.5" cy="413.5" r="3.3"/><circle class="n" cx="249.0" cy="401.1" r="3.3"/><circle class="n" cx="272.3" cy="411.1" r="3.3"/><circle class="n" cx="264.3" cy="402.3" r="3.3"/><circle class="n" cx="227.7" cy="402.5" r="3.3"/><circle class="n" cx="270.6" cy="405.1" r="3.3"/><circle class="n" cx="292.8" cy="410.9" r="3.3"/><circle class="n" cx="248.1" cy="414.7" r="3.3"/><circle class="n" cx="218.3" cy="406.1" r="3.3"/><circle class="n" cx="210.5" cy="406.4" r="3.3"/><circle class="n" cx="267.3" cy="414.5" r="3.3"/><circle class="n" cx="251.5" cy="410.3" r="3.3"/><circle class="n" cx="215.7" cy="418.9" r="3.3"/><circle class="n" cx="246.3" cy="417.4" r="3.3"/><circle class="n" cx="245.5" cy="406.4" r="3.3"/><circle class="n" cx="290.1" cy="405.2" r="3.3"/><circle class="n" cx="217.8" cy="411.5" r="3.3"/><circle class="n" cx="216.9" cy="417.4" r="3.3"/><circle class="n" cx="284.8" cy="415.1" r="3.3"/><circle class="n" cx="205.3" cy="410.8" r="3.3"/><circle class="n" cx="232.2" cy="403.8" r="3.3"/><circle class="n" cx="272.6" cy="417.8" r="3.3"/><circle class="n" cx="288.4" cy="415.3" r="3.3"/><circle class="n" cx="231.1" cy="408.4" r="3.3"/><circle class="n" cx="294.9" cy="412.8" r="3.3"/><circle class="n" cx="214.2" cy="417.7" r="3.3"/><circle class="n" cx="289.2" cy="406.0" r="3.3"/><circle class="n" cx="251.0" cy="404.8" r="3.3"/><circle class="n" cx="291.1" cy="418.7" r="3.3"/><circle class="n" cx="261.8" cy="419.3" r="3.3"/><circle class="n" cx="270.9" cy="410.0" r="3.3"/><circle class="n" cx="288.4" cy="403.5" r="3.3"/><circle class="n" cx="235.9" cy="407.0" r="3.3"/><circle class="n" cx="292.9" cy="406.2" r="3.3"/><circle class="n" cx="232.1" cy="412.1" r="3.3"/><circle class="n" cx="220.1" cy="404.2" r="3.3"/><circle class="n" cx="286.5" cy="410.9" r="3.3"/><circle class="n" cx="286.6" cy="420.9" r="3.3"/><circle class="n" cx="235.8" cy="402.8" r="3.3"/><circle class="n" cx="228.3" cy="412.4" r="3.3"/><circle class="n" cx="272.5" cy="409.3" r="3.3"/><circle class="n" cx="252.2" cy="408.5" r="3.3"/><circle class="n" cx="295.6" cy="413.6" r="3.3"/><circle class="n" cx="301.3" cy="416.0" r="3.3"/><circle class="n" cx="367.7" cy="412.9" r="3.3"/><circle class="n" cx="312.4" cy="414.9" r="3.3"/><circle class="n" cx="375.9" cy="419.8" r="3.3"/><circle class="n" cx="292.0" cy="410.9" r="3.3"/><circle class="n" cx="370.6" cy="415.7" r="3.3"/><circle class="n" cx="290.0" cy="414.8" r="3.3"/><circle class="n" cx="364.3" cy="419.9" r="3.3"/><circle class="n" cx="312.4" cy="411.7" r="3.3"/><circle class="n" cx="337.0" cy="418.0" r="3.3"/><circle class="n" cx="355.0" cy="417.6" r="3.3"/><circle class="n" cx="360.4" cy="413.1" r="3.3"/><circle class="n" cx="348.1" cy="413.8" r="3.3"/><circle class="n" cx="312.7" cy="417.5" r="3.3"/><circle class="n" cx="300.1" cy="411.3" r="3.3"/><circle class="n" cx="342.5" cy="414.8" r="3.3"/><circle class="n" cx="344.1" cy="410.6" r="3.3"/><circle class="n" cx="331.5" cy="421.0" r="3.3"/><circle class="n" cx="369.5" cy="415.7" r="3.3"/><circle class="n" cx="312.2" cy="421.1" r="3.3"/><circle class="n" cx="317.7" cy="410.7" r="3.3"/><circle class="n" cx="350.7" cy="415.1" r="3.3"/><circle class="n" cx="350.1" cy="420.7" r="3.3"/><circle class="n" cx="293.1" cy="414.2" r="3.3"/><circle class="n" cx="351.4" cy="412.7" r="3.3"/><circle class="n" cx="356.5" cy="416.1" r="3.3"/><circle class="n" cx="377.3" cy="413.9" r="3.3"/><circle class="n" cx="310.8" cy="412.9" r="3.3"/><circle class="n" cx="316.5" cy="421.0" r="3.3"/><circle class="n" cx="306.9" cy="413.0" r="3.3"/><circle class="n" cx="349.9" cy="420.9" r="3.3"/><circle class="n" cx="325.4" cy="412.8" r="3.3"/><circle class="n" cx="325.4" cy="420.4" r="3.3"/><circle class="n" cx="355.9" cy="421.5" r="3.3"/><circle class="n" cx="319.6" cy="412.5" r="3.3"/><circle class="n" cx="357.2" cy="410.9" r="3.3"/><circle class="n" cx="324.1" cy="414.6" r="3.3"/><circle class="n" cx="305.2" cy="410.5" r="3.3"/><circle class="n" cx="321.6" cy="421.0" r="3.3"/><circle class="n" cx="376.8" cy="412.8" r="3.3"/><circle class="n" cx="363.9" cy="419.5" r="3.3"/><circle class="n" cx="294.4" cy="415.7" r="3.3"/><circle class="n" cx="372.8" cy="412.6" r="3.3"/><circle class="n" cx="370.7" cy="410.8" r="3.3"/><circle class="n" cx="293.1" cy="411.2" r="3.3"/><circle class="n" cx="313.1" cy="418.7" r="3.3"/><circle class="n" cx="320.5" cy="413.5" r="3.3"/><circle class="n" cx="345.5" cy="413.4" r="3.3"/><circle class="n" cx="358.0" cy="420.6" r="3.3"/><circle class="n" cx="374.9" cy="410.8" r="3.3"/><circle class="n" cx="332.8" cy="421.0" r="3.3"/><circle class="n" cx="324.8" cy="413.3" r="3.3"/><circle class="n" cx="334.4" cy="420.7" r="3.3"/><circle class="n" cx="362.2" cy="418.6" r="3.3"/><circle class="n" cx="359.6" cy="417.2" r="3.3"/><circle class="n" cx="318.8" cy="414.5" r="3.3"/><circle class="n" cx="297.1" cy="412.7" r="3.3"/><circle class="n" cx="339.7" cy="414.1" r="3.3"/><circle class="n" cx="369.5" cy="421.4" r="3.3"/><circle class="n" cx="297.6" cy="411.6" r="3.3"/><circle class="n" cx="353.9" cy="415.4" r="3.3"/><circle class="n" cx="327.5" cy="417.3" r="3.3"/><circle class="n" cx="357.3" cy="419.8" r="3.3"/><circle class="n" cx="300.9" cy="419.7" r="3.3"/><circle class="n" cx="341.0" cy="414.6" r="3.3"/><circle class="n" cx="307.9" cy="413.2" r="3.3"/><circle class="n" cx="303.8" cy="420.2" r="3.3"/><circle class="n" cx="319.4" cy="414.9" r="3.3"/><circle class="n" cx="335.7" cy="413.0" r="3.3"/><circle class="n" cx="348.8" cy="421.4" r="3.3"/><circle class="n" cx="332.7" cy="419.5" r="3.3"/><circle class="n" cx="372.3" cy="410.9" r="3.3"/><circle class="n" cx="300.7" cy="412.6" r="3.3"/><circle class="n" cx="342.5" cy="420.7" r="3.3"/><circle class="n" cx="360.6" cy="410.2" r="3.3"/><circle class="n" cx="354.4" cy="412.7" r="3.3"/><circle class="n" cx="341.7" cy="411.1" r="3.3"/><circle class="n" cx="325.8" cy="408.7" r="3.3"/><circle class="n" cx="317.8" cy="411.0" r="3.3"/><circle class="n" cx="314.2" cy="408.1" r="3.3"/><circle class="n" cx="347.5" cy="408.9" r="3.3"/><circle class="n" cx="314.2" cy="412.0" r="3.3"/><circle class="n" cx="304.4" cy="408.5" r="3.3"/><circle class="n" cx="338.5" cy="411.2" r="3.3"/><circle class="n" cx="311.5" cy="411.5" r="3.3"/><circle class="n" cx="319.8" cy="409.5" r="3.3"/><circle class="n" cx="321.9" cy="410.8" r="3.3"/><circle class="n" cx="329.2" cy="412.3" r="3.3"/><circle class="n" cx="325.5" cy="409.0" r="3.3"/><circle class="n" cx="408.3" cy="411.1" r="3.3"/><circle class="n" cx="438.9" cy="419.2" r="3.3"/><circle class="n" cx="502.7" cy="415.6" r="3.3"/><circle class="n" cx="382.1" cy="416.5" r="3.3"/><circle class="n" cx="506.5" cy="411.9" r="3.3"/><circle class="n" cx="431.5" cy="416.0" r="3.3"/><circle class="n" cx="419.4" cy="416.2" r="3.3"/><circle class="n" cx="395.1" cy="415.9" r="3.3"/><circle class="n" cx="514.4" cy="413.0" r="3.3"/><circle class="n" cx="511.1" cy="420.8" r="3.3"/><circle class="n" cx="387.4" cy="420.3" r="3.3"/><circle class="n" cx="505.7" cy="417.2" r="3.3"/><circle class="n" cx="402.3" cy="418.9" r="3.3"/><circle class="n" cx="436.2" cy="419.5" r="3.3"/><circle class="n" cx="405.4" cy="413.2" r="3.3"/><circle class="n" cx="452.0" cy="414.8" r="3.3"/><circle class="n" cx="414.3" cy="418.2" r="3.3"/><circle class="n" cx="385.7" cy="416.6" r="3.3"/><circle class="n" cx="385.3" cy="419.4" r="3.3"/><circle class="n" cx="463.3" cy="416.5" r="3.3"/><circle class="n" cx="422.6" cy="415.2" r="3.3"/><circle class="n" cx="439.2" cy="417.6" r="3.3"/><circle class="n" cx="440.9" cy="411.2" r="3.3"/><circle class="n" cx="448.0" cy="413.4" r="3.3"/><circle class="n" cx="488.4" cy="415.6" r="3.3"/><circle class="n" cx="445.8" cy="412.1" r="3.3"/><circle class="n" cx="439.9" cy="411.9" r="3.3"/><circle class="n" cx="450.9" cy="411.4" r="3.3"/><circle class="n" cx="391.4" cy="418.3" r="3.3"/><circle class="n" cx="451.1" cy="411.5" r="3.3"/><circle class="n" cx="432.5" cy="420.5" r="3.3"/><circle class="n" cx="499.1" cy="421.0" r="3.3"/><circle class="n" cx="493.3" cy="412.9" r="3.3"/><circle class="n" cx="448.4" cy="420.6" r="3.3"/><circle class="n" cx="403.0" cy="418.9" r="3.3"/><circle class="n" cx="389.1" cy="414.5" r="3.3"/><circle class="n" cx="402.1" cy="420.0" r="3.3"/><circle class="n" cx="493.4" cy="412.4" r="3.3"/><circle class="n" cx="507.9" cy="413.1" r="3.3"/><circle class="n" cx="405.3" cy="412.6" r="3.3"/><circle class="n" cx="474.5" cy="420.0" r="3.3"/><circle class="n" cx="489.1" cy="412.2" r="3.3"/><circle class="n" cx="468.4" cy="414.6" r="3.3"/><circle class="n" cx="457.2" cy="416.8" r="3.3"/><circle class="n" cx="394.5" cy="420.9" r="3.3"/><circle class="n" cx="434.8" cy="419.0" r="3.3"/><circle class="n" cx="517.7" cy="416.8" r="3.3"/><circle class="n" cx="486.3" cy="415.4" r="3.3"/><circle class="n" cx="483.4" cy="411.5" r="3.3"/><circle class="n" cx="415.3" cy="417.4" r="3.3"/><circle class="n" cx="461.4" cy="417.6" r="3.3"/><circle class="n" cx="380.2" cy="411.3" r="3.3"/><circle class="n" cx="465.6" cy="415.3" r="3.3"/><circle class="n" cx="504.5" cy="412.3" r="3.3"/><circle class="n" cx="429.3" cy="412.1" r="3.3"/><circle class="n" cx="411.2" cy="416.8" r="3.3"/><circle class="n" cx="408.4" cy="417.2" r="3.3"/><circle class="n" cx="398.7" cy="420.4" r="3.3"/><circle class="n" cx="400.8" cy="412.0" r="3.3"/><circle class="n" cx="501.1" cy="418.8" r="3.3"/><circle class="n" cx="416.7" cy="411.1" r="3.3"/><circle class="n" cx="458.2" cy="414.5" r="3.3"/><circle class="n" cx="441.7" cy="420.4" r="3.3"/><circle class="n" cx="453.9" cy="415.1" r="3.3"/><circle class="n" cx="456.6" cy="420.4" r="3.3"/><circle class="n" cx="407.7" cy="417.1" r="3.3"/><circle class="n" cx="469.2" cy="419.1" r="3.3"/><circle class="n" cx="503.6" cy="418.8" r="3.3"/><circle class="n" cx="380.9" cy="419.4" r="3.3"/><circle class="n" cx="444.7" cy="418.4" r="3.3"/><circle class="n" cx="411.4" cy="412.1" r="3.3"/><circle class="n" cx="385.4" cy="414.4" r="3.3"/><circle class="n" cx="476.6" cy="419.5" r="3.3"/><circle class="n" cx="417.0" cy="416.5" r="3.3"/><circle class="n" cx="489.6" cy="416.2" r="3.3"/><circle class="n" cx="469.2" cy="420.7" r="3.3"/><circle class="n" cx="502.3" cy="411.2" r="3.3"/><circle class="n" cx="412.8" cy="418.4" r="3.3"/><circle class="n" cx="483.7" cy="414.3" r="3.3"/><circle class="n" cx="425.7" cy="413.4" r="3.3"/><circle class="n" cx="467.7" cy="417.9" r="3.3"/><circle class="n" cx="516.1" cy="415.7" r="3.3"/><circle class="n" cx="477.0" cy="419.6" r="3.3"/><circle class="n" cx="480.7" cy="416.7" r="3.3"/><circle class="n" cx="409.5" cy="417.2" r="3.3"/><circle class="n" cx="394.8" cy="420.3" r="3.3"/><circle class="n" cx="476.3" cy="417.3" r="3.3"/><circle class="n" cx="482.4" cy="411.7" r="3.3"/><circle class="n" cx="430.5" cy="419.2" r="3.3"/><circle class="n" cx="503.9" cy="411.7" r="3.3"/><circle class="n" cx="507.1" cy="420.4" r="3.3"/><circle class="n" cx="497.8" cy="419.1" r="3.3"/><circle class="n" cx="494.7" cy="417.3" r="3.3"/><circle class="n" cx="393.9" cy="412.0" r="3.3"/><circle class="n" cx="408.5" cy="414.2" r="3.3"/><circle class="n" cx="382.9" cy="413.6" r="3.3"/><circle class="n" cx="479.5" cy="414.7" r="3.3"/><circle class="n" cx="514.0" cy="416.0" r="3.3"/><circle class="n" cx="465.9" cy="411.3" r="3.3"/><circle class="n" cx="440.7" cy="418.7" r="3.3"/><circle class="n" cx="477.9" cy="416.4" r="3.3"/><circle class="n" cx="499.9" cy="411.9" r="3.3"/><circle class="n" cx="403.7" cy="411.0" r="3.3"/><circle class="n" cx="448.2" cy="415.9" r="3.3"/><circle class="n" cx="405.6" cy="415.9" r="3.3"/><circle class="n" cx="495.6" cy="413.6" r="3.3"/><circle class="n" cx="419.4" cy="413.1" r="3.3"/><circle class="n" cx="449.3" cy="412.1" r="3.3"/><circle class="n" cx="391.2" cy="418.9" r="3.3"/><circle class="n" cx="489.4" cy="417.3" r="3.3"/><circle class="n" cx="435.8" cy="414.9" r="3.3"/><circle class="n" cx="408.9" cy="404.0" r="3.3"/><circle class="n" cx="416.0" cy="405.1" r="3.3"/><circle class="n" cx="409.6" cy="405.9" r="3.3"/><circle class="n" cx="422.1" cy="408.7" r="3.3"/><circle class="n" cx="412.4" cy="404.6" r="3.3"/><circle class="n" cx="424.2" cy="407.8" r="3.3"/><circle class="n" cx="408.1" cy="405.7" r="3.3"/><circle class="n" cx="417.9" cy="402.7" r="3.3"/><circle class="n" cx="425.2" cy="403.8" r="3.3"/><circle class="n" cx="411.2" cy="408.2" r="3.3"/><circle class="n" cx="407.7" cy="403.0" r="3.3"/><circle class="n" cx="411.8" cy="406.5" r="3.3"/><circle class="n" cx="411.9" cy="403.3" r="3.3"/><circle class="n" cx="421.5" cy="402.5" r="3.3"/><circle class="n" cx="406.4" cy="405.2" r="3.3"/><circle class="n" cx="423.1" cy="408.5" r="3.3"/><circle class="n" cx="408.7" cy="407.6" r="3.3"/><circle class="n" cx="413.6" cy="409.0" r="3.3"/><circle class="n" cx="416.0" cy="407.5" r="3.3"/><circle class="n" cx="407.4" cy="407.2" r="3.3"/><circle class="n" cx="460.0" cy="418.5" r="3.3"/><circle class="n" cx="455.5" cy="414.2" r="3.3"/><circle class="n" cx="446.2" cy="413.5" r="3.3"/><circle class="n" cx="460.9" cy="412.9" r="3.3"/><circle class="n" cx="458.3" cy="411.3" r="3.3"/><circle class="n" cx="448.5" cy="411.0" r="3.3"/><circle class="n" cx="451.3" cy="415.1" r="3.3"/><circle class="n" cx="457.0" cy="400.8" r="3.3"/><circle class="n" cx="452.3" cy="410.8" r="3.3"/><circle class="n" cx="458.2" cy="419.1" r="3.3"/><circle class="n" cx="457.7" cy="415.0" r="3.3"/><circle class="n" cx="454.7" cy="398.3" r="3.3"/><circle class="n" cx="465.4" cy="408.0" r="3.3"/><circle class="n" cx="455.5" cy="408.6" r="3.3"/><circle class="n" cx="453.8" cy="411.3" r="3.3"/><circle class="n" cx="454.1" cy="405.1" r="3.3"/><circle class="n" cx="445.7" cy="412.5" r="3.3"/><circle class="n" cx="460.6" cy="397.3" r="3.3"/><circle class="n" cx="449.6" cy="395.5" r="3.3"/><circle class="n" cx="507.6" cy="403.1" r="3.3"/><circle class="n" cx="508.0" cy="407.9" r="3.3"/><circle class="n" cx="505.0" cy="404.6" r="3.3"/><circle class="n" cx="517.9" cy="406.7" r="3.3"/><circle class="b" cx="119.4" cy="265.8" r="3.3"/><circle class="b" cx="133.7" cy="271.5" r="3.3"/><circle class="b" cx="138.8" cy="271.5" r="3.3"/><circle class="b" cx="148.7" cy="273.8" r="3.3"/><circle class="b" cx="145.7" cy="278.5" r="3.3"/><circle class="b" cx="154.5" cy="272.7" r="3.3"/><circle class="b" cx="119.9" cy="286.5" r="3.3"/><circle class="b" cx="127.2" cy="288.2" r="3.3"/><circle class="b" cx="118.0" cy="291.8" r="3.3"/><circle class="b" cx="171.5" cy="270.4" r="3.3"/><circle class="b" cx="173.8" cy="273.4" r="3.3"/><circle class="b" cx="165.8" cy="273.8" r="3.3"/><circle class="b" cx="176.2" cy="259.5" r="3.3"/><circle class="b" cx="180.8" cy="259.5" r="3.3"/><circle class="b" cx="184.2" cy="260.0" r="3.3"/><circle class="b" cx="187.7" cy="259.5" r="3.3"/><circle class="b" cx="193.5" cy="258.0" r="3.3"/><circle class="b" cx="194.6" cy="256.0" r="3.3"/><circle class="b" cx="202.7" cy="256.0" r="3.3"/><circle class="b" cx="207.3" cy="254.5" r="3.3"/><circle class="b" cx="212.6" cy="258.0" r="3.3"/><circle class="b" cx="220.0" cy="254.0" r="3.3"/><circle class="b" cx="183.5" cy="261.6" r="3.3"/><circle class="b" cx="202.7" cy="282.0" r="3.3"/><circle class="b" cx="265.0" cy="267.1" r="3.3"/><circle class="b" cx="256.2" cy="295.1" r="3.3"/><circle class="b" cx="258.9" cy="302.1" r="3.3"/><circle class="b" cx="262.0" cy="302.8" r="3.3"/><circle class="b" cx="112.2" cy="316.2" r="3.3"/><circle class="b" cx="288.6" cy="380.0" r="3.3"/><circle class="b" cx="267.0" cy="401.5" r="3.3"/><circle class="b" cx="273.2" cy="408.6" r="3.3"/><circle class="b" cx="278.5" cy="400.0" r="3.3"/><circle class="b" cx="286.0" cy="406.0" r="3.3"/><circle class="b" cx="283.7" cy="409.8" r="3.3"/><circle class="b" cx="287.5" cy="379.5" r="3.3"/><circle class="b" cx="277.5" cy="398.0" r="3.3"/><circle class="g" cx="122.7" cy="204.6" r="3.3"/><circle class="g" cx="132.7" cy="204.2" r="3.3"/><circle class="g" cx="134.0" cy="206.5" r="3.3"/><circle class="g" cx="137.7" cy="210.4" r="3.3"/><circle class="g" cx="196.4" cy="180.9" r="3.3"/><circle class="g" cx="222.7" cy="181.0" r="3.3"/><circle class="g" cx="227.3" cy="179.2" r="3.3"/><circle class="g" cx="227.3" cy="189.0" r="3.3"/><circle class="g" cx="228.9" cy="197.7" r="3.3"/><circle class="g" cx="238.8" cy="188.0" r="3.3"/><circle class="g" cx="245.3" cy="189.2" r="3.3"/><circle class="g" cx="230.7" cy="197.4" r="3.3"/><circle class="g" cx="255.0" cy="189.6" r="3.3"/><circle class="g" cx="257.3" cy="187.3" r="3.3"/><circle class="g" cx="262.0" cy="192.0" r="3.3"/><circle class="g" cx="263.5" cy="184.3" r="3.3"/><circle class="g" cx="255.8" cy="188.3" r="3.3"/><circle class="g" cx="260.6" cy="192.1" r="3.3"/><circle class="g" cx="263.5" cy="185.4" r="3.3"/><circle class="g" cx="259.6" cy="189.5" r="3.3"/><circle class="g" cx="268.8" cy="170.6" r="3.3"/><circle class="g" cx="272.9" cy="173.4" r="3.3"/><circle class="g" cx="275.8" cy="176.9" r="3.3"/><circle class="g" cx="279.8" cy="174.6" r="3.3"/><circle class="g" cx="281.5" cy="178.1" r="3.3"/><circle class="g" cx="283.8" cy="171.1" r="3.3"/><circle class="g" cx="286.1" cy="167.1" r="3.3"/><circle class="g" cx="279.2" cy="171.1" r="3.3"/><circle class="g" cx="276.5" cy="172.0" r="3.3"/><circle class="g" cx="270.5" cy="168.5" r="3.3"/><circle class="g" cx="284.5" cy="175.0" r="3.3"/><circle class="g" cx="125.6" cy="268.1" r="3.3"/><circle class="g" cx="144.8" cy="268.8" r="3.3"/><circle class="g" cx="160.2" cy="261.8" r="3.3"/><circle class="g" cx="158.0" cy="275.0" r="3.3"/><circle class="g" cx="163.7" cy="270.4" r="3.3"/><circle class="g" cx="161.0" cy="261.0" r="3.3"/><circle class="g" cx="164.6" cy="269.0" r="3.3"/><circle class="g" cx="162.3" cy="272.7" r="3.3"/><circle class="g" cx="184.2" cy="277.0" r="3.3"/><circle class="g" cx="188.8" cy="275.0" r="3.3"/><circle class="g" cx="192.3" cy="275.5" r="3.3"/><circle class="g" cx="196.5" cy="275.0" r="3.3"/><circle class="g" cx="202.7" cy="273.5" r="3.3"/><circle class="g" cx="206.0" cy="275.0" r="3.3"/><circle class="g" cx="210.8" cy="279.0" r="3.3"/><circle class="g" cx="216.5" cy="274.0" r="3.3"/><circle class="g" cx="211.2" cy="283.5" r="3.3"/><circle class="g" cx="233.0" cy="271.4" r="3.3"/><circle class="g" cx="242.8" cy="272.5" r="3.3"/><circle class="g" cx="244.5" cy="271.2" r="3.3"/><circle class="g" cx="248.8" cy="273.6" r="3.3"/><circle class="g" cx="254.9" cy="275.2" r="3.3"/><circle class="g" cx="249.9" cy="292.7" r="3.3"/><circle class="g" cx="280.5" cy="250.8" r="3.3"/><circle class="o" cx="146.2" cy="196.2" r="3.3"/><circle class="o" cx="147.9" cy="217.3" r="3.3"/><circle class="o" cx="259.9" cy="200.5" r="3.3"/><circle class="o" cx="268.4" cy="245.9" r="3.3"/><circle class="o" cx="274.7" cy="248.5" r="3.3"/><circle class="r" cx="286.5" cy="195.6" r="3.3"/><circle class="r" cx="267.1" cy="159.0" r="3.3"/><circle class="r" cx="264.8" cy="163.1" r="3.3"/><circle class="r" cx="270.6" cy="161.3" r="3.3"/><circle class="r" cx="273.4" cy="164.2" r="3.3"/><circle class="r" cx="278.1" cy="160.2" r="3.3"/><circle class="r" cx="281.0" cy="164.8" r="3.3"/><circle class="r" cx="283.3" cy="162.5" r="3.3"/><circle class="r" cx="264.8" cy="173.4" r="3.3"/><circle class="r" cx="268.0" cy="164.5" r="3.3"/><circle class="r" cx="276.0" cy="163.0" r="3.3"/></g>
<polygon class="p" points="282.7,154.6 286.6,158.5 282.7,162.4 278.8,158.5" fill="#7a4aa6" stroke="#3b2262" stroke-width="0.8"/>
<text x="259.8" y="140.1" font-size="9.5" fill="#222" textLength="45.9" lengthAdjust="spacingAndGlyphs">rs3814113</text>
<rect x="474.5" y="122.3" width="40.2" height="95.2" fill="#fff" stroke="#888" stroke-width="0.9"/>
<rect x="480.8" y="138.8" width="9.4" height="14.7" fill="#e8101e"/>
<rect x="480.8" y="153.5" width="9.4" height="14.7" fill="#f8a81c"/>
<rect x="480.8" y="168.1" width="9.4" height="14.7" fill="#4cb848"/>
<rect x="480.8" y="182.8" width="9.4" height="14.7" fill="#8ec8f0"/>
<rect x="480.8" y="197.4" width="9.4" height="14.7" fill="#1c1c6c"/>
<line x1="490.2" y1="153.5" x2="494.7" y2="153.5" stroke="#555" stroke-width="0.9"/>
<text x="497.2" y="156.6" font-size="8.6" fill="#555">0.8</text>
<line x1="490.2" y1="168.1" x2="494.7" y2="168.1" stroke="#555" stroke-width="0.9"/>
<text x="497.2" y="171.2" font-size="8.6" fill="#555">0.6</text>
<line x1="490.2" y1="182.8" x2="494.7" y2="182.8" stroke="#555" stroke-width="0.9"/>
<text x="497.2" y="185.8" font-size="8.6" fill="#555">0.4</text>
<line x1="490.2" y1="197.4" x2="494.7" y2="197.4" stroke="#555" stroke-width="0.9"/>
<text x="497.2" y="200.5" font-size="8.6" fill="#555">0.2</text>
<text x="491.4" y="135.6" font-size="10" font-style="italic" fill="#333">r</text>
<text x="495.4" y="131.3" font-size="6.5" fill="#333">2</text>
<rect class="ax" x="46.5" y="451.5" width="471" height="321"/>
<line class="ax" x1="40.5" y1="758.5" x2="46.5" y2="758.5"/>
<text class="tl" x="34.6" y="761.8" text-anchor="end">0</text>
<line class="ax" x1="40.5" y1="700.5" x2="46.5" y2="700.5"/>
<text class="tl" x="34.6" y="703.5" text-anchor="end">2</text>
<line class="ax" x1="40.5" y1="641.5" x2="46.5" y2="641.5"/>
<text class="tl" x="34.6" y="645.2" text-anchor="end">4</text>
<line class="ax" x1="40.5" y1="583.5" x2="46.5" y2="583.5"/>
<text class="tl" x="34.6" y="587.0" text-anchor="end">6</text>
<line class="ax" x1="40.5" y1="525.5" x2="46.5" y2="525.5"/>
<text class="tl" x="34.6" y="528.7" text-anchor="end">8</text>
<line class="ax" x1="40.5" y1="466.5" x2="46.5" y2="466.5"/>
<text class="tl" x="34.6" y="470.4" text-anchor="end">10</text>
<text x="0" y="0" font-size="10.4" fill="#444" transform="translate(13.5,612.2) rotate(-90)" text-anchor="middle">&#8722;log<tspan font-size="7" dy="2.2">10</tspan><tspan dy="-2.2"> (</tspan><tspan font-style="italic">P</tspan>)</text>
<g clip-path="url(#cB)"><circle class="k" cx="209.6" cy="651.8" r="3.3"/><circle class="k" cx="176.6" cy="675.4" r="3.3"/><circle class="k" cx="219.5" cy="665.7" r="3.3"/><circle class="k" cx="238.0" cy="667.3" r="3.3"/><circle class="k" cx="258.0" cy="675.0" r="3.3"/><circle class="k" cx="266.0" cy="673.5" r="3.3"/><circle class="k" cx="265.0" cy="646.5" r="3.3"/><circle class="k" cx="265.7" cy="651.2" r="3.3"/><circle class="k" cx="275.4" cy="688.0" r="3.3"/><circle class="k" cx="215.4" cy="696.2" r="3.3"/><circle class="k" cx="281.5" cy="643.0" r="3.3"/><circle class="k" cx="351.5" cy="684.6" r="3.3"/><circle class="k" cx="375.0" cy="693.4" r="3.3"/><circle class="k" cx="407.4" cy="693.8" r="3.3"/><circle class="k" cx="155.6" cy="708.6" r="3.3"/><circle class="k" cx="178.6" cy="720.8" r="3.3"/><circle class="k" cx="132.5" cy="714.2" r="3.3"/><circle class="k" cx="215.0" cy="697.0" r="3.3"/><circle class="k" cx="178.5" cy="722.3" r="3.3"/><circle class="k" cx="206.2" cy="724.6" r="3.3"/><circle class="k" cx="225.0" cy="719.5" r="3.3"/><circle class="k" cx="265.7" cy="717.2" r="3.3"/><circle class="k" cx="266.0" cy="721.0" r="3.3"/><circle class="k" cx="338.3" cy="710.8" r="3.3"/><circle class="k" cx="363.3" cy="723.8" r="3.3"/><circle class="k" cx="338.3" cy="724.2" r="3.3"/><circle class="k" cx="391.2" cy="718.5" r="3.3"/><circle class="k" cx="387.3" cy="723.8" r="3.3"/><circle class="k" cx="394.0" cy="725.2" r="3.3"/><circle class="k" cx="321.0" cy="734.8" r="3.3"/><circle class="k" cx="431.5" cy="704.6" r="3.3"/><circle class="k" cx="468.5" cy="716.5" r="3.3"/><circle class="k" cx="422.0" cy="719.0" r="3.3"/><circle class="k" cx="314.6" cy="730.8" r="3.3"/><circle class="k" cx="320.8" cy="734.6" r="3.3"/><circle class="k" cx="55.2" cy="755.0" r="3.3"/><circle class="k" cx="87.5" cy="757.0" r="3.3"/><circle class="k" cx="235.0" cy="738.5" r="3.3"/><circle class="k" cx="240.8" cy="735.0" r="3.3"/><circle class="k" cx="247.7" cy="733.8" r="3.3"/><circle class="k" cx="265.0" cy="737.0" r="3.3"/><circle class="k" cx="168.0" cy="745.4" r="3.3"/><circle class="k" cx="169.2" cy="755.8" r="3.3"/><circle class="k" cx="229.2" cy="758.0" r="3.3"/><circle class="k" cx="232.8" cy="758.8" r="3.3"/><circle class="k" cx="265.4" cy="737.7" r="3.3"/><circle class="k" cx="290.6" cy="750.4" r="3.3"/><circle class="k" cx="123.8" cy="759.6" r="3.3"/><circle class="k" cx="168.5" cy="744.2" r="3.3"/><circle class="k" cx="334.5" cy="749.8" r="3.3"/><circle class="k" cx="452.1" cy="748.1" r="3.3"/><circle class="k" cx="436.6" cy="757.8" r="3.3"/><circle class="k" cx="485.6" cy="753.8" r="3.3"/><circle class="k" cx="365.4" cy="754.2" r="3.3"/><circle class="k" cx="327.1" cy="749.0" r="3.3"/><circle class="k" cx="505.7" cy="758.9" r="3.3"/><circle class="k" cx="435.7" cy="759.8" r="3.3"/><circle class="k" cx="318.3" cy="750.7" r="3.3"/><circle class="k" cx="353.4" cy="759.7" r="3.3"/><circle class="k" cx="343.4" cy="757.8" r="3.3"/><circle class="k" cx="487.6" cy="756.6" r="3.3"/><circle class="k" cx="468.3" cy="739.9" r="3.3"/><circle class="k" cx="489.9" cy="743.3" r="3.3"/><circle class="k" cx="498.5" cy="738.1" r="3.3"/><circle class="k" cx="516.6" cy="745.6" r="3.3"/><circle class="k" cx="475.8" cy="738.7" r="3.3"/><circle class="k" cx="328.8" cy="741.3" r="3.3"/><circle class="k" cx="449.2" cy="742.2" r="3.3"/><circle class="k" cx="327.7" cy="742.4" r="3.3"/><circle class="k" cx="216.3" cy="757.1" r="3.3"/><circle class="n" cx="208.0" cy="635.7" r="3.3"/><circle class="n" cx="96.3" cy="695.7" r="3.3"/><circle class="n" cx="235.0" cy="643.5" r="3.3"/><circle class="n" cx="183.0" cy="655.8" r="3.3"/><circle class="n" cx="188.8" cy="658.0" r="3.3"/><circle class="n" cx="193.5" cy="654.6" r="3.3"/><circle class="n" cx="199.2" cy="653.5" r="3.3"/><circle class="n" cx="203.8" cy="652.3" r="3.3"/><circle class="n" cx="201.5" cy="658.0" r="3.3"/><circle class="n" cx="203.0" cy="662.0" r="3.3"/><circle class="n" cx="193.5" cy="665.0" r="3.3"/><circle class="n" cx="195.8" cy="667.3" r="3.3"/><circle class="n" cx="200.4" cy="666.2" r="3.3"/><circle class="n" cx="177.3" cy="670.8" r="3.3"/><circle class="n" cx="227.0" cy="653.5" r="3.3"/><circle class="n" cx="230.4" cy="655.8" r="3.3"/><circle class="n" cx="235.0" cy="654.6" r="3.3"/><circle class="n" cx="238.5" cy="650.0" r="3.3"/><circle class="n" cx="234.0" cy="650.0" r="3.3"/><circle class="n" cx="242.0" cy="657.0" r="3.3"/><circle class="n" cx="245.4" cy="652.3" r="3.3"/><circle class="n" cx="248.4" cy="662.0" r="3.3"/><circle class="n" cx="254.6" cy="656.5" r="3.3"/><circle class="n" cx="225.0" cy="669.6" r="3.3"/><circle class="n" cx="235.0" cy="679.5" r="3.3"/><circle class="n" cx="235.0" cy="684.2" r="3.3"/><circle class="n" cx="252.3" cy="678.0" r="3.3"/><circle class="n" cx="257.0" cy="675.0" r="3.3"/><circle class="n" cx="261.0" cy="681.0" r="3.3"/><circle class="n" cx="265.0" cy="676.0" r="3.3"/><circle class="n" cx="268.0" cy="678.0" r="3.3"/><circle class="n" cx="260.4" cy="693.8" r="3.3"/><circle class="n" cx="261.0" cy="698.0" r="3.3"/><circle class="n" cx="203.8" cy="692.7" r="3.3"/><circle class="n" cx="194.6" cy="689.2" r="3.3"/><circle class="n" cx="282.3" cy="669.0" r="3.3"/><circle class="n" cx="282.3" cy="684.6" r="3.3"/><circle class="n" cx="325.0" cy="695.0" r="3.3"/><circle class="n" cx="401.8" cy="691.5" r="3.3"/><circle class="n" cx="416.2" cy="693.8" r="3.3"/><circle class="n" cx="420.8" cy="695.0" r="3.3"/><circle class="n" cx="424.2" cy="695.7" r="3.3"/><circle class="n" cx="431.2" cy="694.3" r="3.3"/><circle class="n" cx="435.8" cy="691.0" r="3.3"/><circle class="n" cx="441.5" cy="693.4" r="3.3"/><circle class="n" cx="422.0" cy="695.0" r="3.3"/><circle class="n" cx="425.8" cy="695.0" r="3.3"/><circle class="n" cx="431.5" cy="693.5" r="3.3"/><circle class="n" cx="435.8" cy="690.6" r="3.3"/><circle class="n" cx="440.2" cy="692.5" r="3.3"/><circle class="n" cx="442.7" cy="693.8" r="3.3"/><circle class="n" cx="158.4" cy="705.2" r="3.3"/><circle class="n" cx="160.8" cy="704.0" r="3.3"/><circle class="n" cx="163.0" cy="702.9" r="3.3"/><circle class="n" cx="165.4" cy="701.1" r="3.3"/><circle class="n" cx="167.1" cy="700.0" r="3.3"/><circle class="n" cx="159.6" cy="706.9" r="3.3"/><circle class="n" cx="156.5" cy="706.0" r="3.3"/><circle class="n" cx="174.0" cy="704.0" r="3.3"/><circle class="n" cx="51.8" cy="711.2" r="3.3"/><circle class="n" cx="121.0" cy="711.0" r="3.3"/><circle class="n" cx="126.0" cy="709.0" r="3.3"/><circle class="n" cx="130.0" cy="712.0" r="3.3"/><circle class="n" cx="128.0" cy="716.0" r="3.3"/><circle class="n" cx="137.0" cy="716.5" r="3.3"/><circle class="n" cx="141.0" cy="717.0" r="3.3"/><circle class="n" cx="145.0" cy="717.5" r="3.3"/><circle class="n" cx="174.3" cy="703.8" r="3.3"/><circle class="n" cx="191.2" cy="701.5" r="3.3"/><circle class="n" cx="203.8" cy="692.8" r="3.3"/><circle class="n" cx="205.0" cy="703.4" r="3.3"/><circle class="n" cx="215.4" cy="702.7" r="3.3"/><circle class="n" cx="221.2" cy="700.4" r="3.3"/><circle class="n" cx="215.4" cy="706.6" r="3.3"/><circle class="n" cx="260.8" cy="693.8" r="3.3"/><circle class="n" cx="262.3" cy="700.0" r="3.3"/><circle class="n" cx="298.5" cy="701.0" r="3.3"/><circle class="n" cx="287.7" cy="712.3" r="3.3"/><circle class="n" cx="236.6" cy="713.0" r="3.3"/><circle class="n" cx="195.8" cy="725.8" r="3.3"/><circle class="n" cx="228.8" cy="724.2" r="3.3"/><circle class="n" cx="240.3" cy="726.5" r="3.3"/><circle class="n" cx="247.7" cy="717.2" r="3.3"/><circle class="n" cx="253.5" cy="716.5" r="3.3"/><circle class="n" cx="273.0" cy="723.5" r="3.3"/><circle class="n" cx="253.0" cy="717.0" r="3.3"/><circle class="n" cx="273.0" cy="723.0" r="3.3"/><circle class="n" cx="268.5" cy="727.0" r="3.3"/><circle class="n" cx="285.4" cy="724.6" r="3.3"/><circle class="n" cx="290.8" cy="726.2" r="3.3"/><circle class="n" cx="342.7" cy="707.0" r="3.3"/><circle class="n" cx="398.8" cy="704.6" r="3.3"/><circle class="n" cx="332.0" cy="715.6" r="3.3"/><circle class="n" cx="345.0" cy="719.0" r="3.3"/><circle class="n" cx="349.0" cy="716.0" r="3.3"/><circle class="n" cx="353.0" cy="714.6" r="3.3"/><circle class="n" cx="354.0" cy="718.0" r="3.3"/><circle class="n" cx="347.0" cy="721.0" r="3.3"/><circle class="n" cx="368.0" cy="719.4" r="3.3"/><circle class="n" cx="381.5" cy="717.5" r="3.3"/><circle class="n" cx="405.6" cy="720.4" r="3.3"/><circle class="n" cx="322.0" cy="726.0" r="3.3"/><circle class="n" cx="330.6" cy="728.0" r="3.3"/><circle class="n" cx="328.7" cy="731.5" r="3.3"/><circle class="n" cx="353.7" cy="732.0" r="3.3"/><circle class="n" cx="355.6" cy="735.8" r="3.3"/><circle class="n" cx="401.7" cy="732.0" r="3.3"/><circle class="n" cx="416.0" cy="732.0" r="3.3"/><circle class="n" cx="423.8" cy="720.4" r="3.3"/><circle class="n" cx="451.7" cy="720.8" r="3.3"/><circle class="n" cx="430.6" cy="725.2" r="3.3"/><circle class="n" cx="426.0" cy="727.0" r="3.3"/><circle class="n" cx="439.2" cy="729.0" r="3.3"/><circle class="n" cx="453.7" cy="729.6" r="3.3"/><circle class="n" cx="457.5" cy="733.8" r="3.3"/><circle class="n" cx="487.3" cy="732.3" r="3.3"/><circle class="n" cx="296.0" cy="731.5" r="3.3"/><circle class="n" cx="300.8" cy="730.8" r="3.3"/><circle class="n" cx="305.4" cy="732.3" r="3.3"/><circle class="n" cx="317.7" cy="727.0" r="3.3"/><circle class="n" cx="320.8" cy="730.0" r="3.3"/><circle class="n" cx="296.0" cy="740.8" r="3.3"/><circle class="n" cx="296.0" cy="746.0" r="3.3"/><circle class="n" cx="314.6" cy="740.8" r="3.3"/><circle class="n" cx="316.0" cy="745.0" r="3.3"/><circle class="n" cx="311.0" cy="741.0" r="3.3"/><circle class="n" cx="289.4" cy="688.7" r="3.3"/><circle class="n" cx="291.8" cy="689.7" r="3.3"/><circle class="n" cx="295.6" cy="688.9" r="3.3"/><circle class="n" cx="298.3" cy="690.2" r="3.3"/><circle class="n" cx="302.0" cy="689.8" r="3.3"/><circle class="n" cx="305.0" cy="688.5" r="3.3"/><circle class="n" cx="307.8" cy="689.9" r="3.3"/><circle class="n" cx="310.4" cy="686.4" r="3.3"/><circle class="n" cx="312.9" cy="686.5" r="3.3"/><circle class="n" cx="315.8" cy="687.0" r="3.3"/><circle class="n" cx="319.3" cy="685.6" r="3.3"/><circle class="n" cx="322.7" cy="686.2" r="3.3"/><circle class="n" cx="325.8" cy="686.6" r="3.3"/><circle class="n" cx="334.5" cy="689.0" r="3.3"/><circle class="n" cx="338.5" cy="687.1" r="3.3"/><circle class="n" cx="341.6" cy="686.9" r="3.3"/><circle class="n" cx="345.1" cy="689.0" r="3.3"/><circle class="n" cx="347.3" cy="687.7" r="3.3"/><circle class="n" cx="351.3" cy="688.4" r="3.3"/><circle class="n" cx="354.7" cy="690.0" r="3.3"/><circle class="n" cx="357.9" cy="689.6" r="3.3"/><circle class="n" cx="360.8" cy="690.6" r="3.3"/><circle class="n" cx="364.2" cy="688.7" r="3.3"/><circle class="n" cx="367.0" cy="690.5" r="3.3"/><circle class="n" cx="370.7" cy="690.2" r="3.3"/><circle class="n" cx="378.7" cy="689.1" r="3.3"/><circle class="n" cx="381.7" cy="690.2" r="3.3"/><circle class="n" cx="385.4" cy="690.7" r="3.3"/><circle class="n" cx="389.0" cy="689.7" r="3.3"/><circle class="n" cx="391.8" cy="691.5" r="3.3"/><circle class="n" cx="395.4" cy="691.3" r="3.3"/><circle class="n" cx="398.8" cy="690.9" r="3.3"/><circle class="n" cx="466.2" cy="735.3" r="3.3"/><circle class="n" cx="469.2" cy="737.6" r="3.3"/><circle class="n" cx="472.6" cy="736.5" r="3.3"/><circle class="n" cx="475.5" cy="735.3" r="3.3"/><circle class="n" cx="478.2" cy="736.1" r="3.3"/><circle class="n" cx="480.8" cy="736.4" r="3.3"/><circle class="n" cx="484.3" cy="735.7" r="3.3"/><circle class="n" cx="486.9" cy="736.6" r="3.3"/><circle class="n" cx="489.8" cy="737.4" r="3.3"/><circle class="n" cx="493.0" cy="735.9" r="3.3"/><circle class="n" cx="496.6" cy="736.9" r="3.3"/><circle class="n" cx="498.8" cy="736.0" r="3.3"/><circle class="n" cx="502.1" cy="736.9" r="3.3"/><circle class="n" cx="504.4" cy="737.1" r="3.3"/><circle class="n" cx="508.1" cy="735.3" r="3.3"/><circle class="n" cx="510.4" cy="735.7" r="3.3"/><circle class="n" cx="514.1" cy="736.9" r="3.3"/><circle class="n" cx="517.5" cy="736.8" r="3.3"/><circle class="n" cx="53.0" cy="725.8" r="3.3"/><circle class="n" cx="58.7" cy="723.5" r="3.3"/><circle class="n" cx="50.6" cy="730.4" r="3.3"/><circle class="n" cx="57.5" cy="731.5" r="3.3"/><circle class="n" cx="66.8" cy="724.6" r="3.3"/><circle class="n" cx="70.0" cy="727.0" r="3.3"/><circle class="n" cx="63.3" cy="728.0" r="3.3"/><circle class="n" cx="76.0" cy="723.5" r="3.3"/><circle class="n" cx="80.6" cy="724.6" r="3.3"/><circle class="n" cx="88.7" cy="722.3" r="3.3"/><circle class="n" cx="90.0" cy="726.0" r="3.3"/><circle class="n" cx="85.2" cy="729.2" r="3.3"/><circle class="n" cx="91.0" cy="731.5" r="3.3"/><circle class="n" cx="80.6" cy="732.7" r="3.3"/><circle class="n" cx="63.3" cy="736.2" r="3.3"/><circle class="n" cx="68.0" cy="738.5" r="3.3"/><circle class="n" cx="72.5" cy="739.6" r="3.3"/><circle class="n" cx="77.2" cy="738.5" r="3.3"/><circle class="n" cx="80.6" cy="743.0" r="3.3"/><circle class="n" cx="86.4" cy="737.3" r="3.3"/><circle class="n" cx="56.4" cy="746.5" r="3.3"/><circle class="n" cx="49.5" cy="753.5" r="3.3"/><circle class="n" cx="61.0" cy="755.0" r="3.3"/><circle class="n" cx="85.2" cy="748.8" r="3.3"/><circle class="n" cx="106.0" cy="730.4" r="3.3"/><circle class="n" cx="110.2" cy="721.2" r="3.3"/><circle class="n" cx="99.0" cy="739.6" r="3.3"/><circle class="n" cx="100.0" cy="745.0" r="3.3"/><circle class="n" cx="98.0" cy="751.0" r="3.3"/><circle class="n" cx="98.0" cy="755.8" r="3.3"/><circle class="n" cx="102.5" cy="757.0" r="3.3"/><circle class="n" cx="108.3" cy="742.0" r="3.3"/><circle class="n" cx="113.0" cy="745.4" r="3.3"/><circle class="n" cx="110.6" cy="752.3" r="3.3"/><circle class="n" cx="116.4" cy="746.5" r="3.3"/><circle class="n" cx="114.0" cy="724.6" r="3.3"/><circle class="n" cx="122.2" cy="739.6" r="3.3"/><circle class="n" cx="126.0" cy="743.0" r="3.3"/><circle class="n" cx="131.4" cy="738.5" r="3.3"/><circle class="n" cx="136.0" cy="731.5" r="3.3"/><circle class="n" cx="140.6" cy="738.5" r="3.3"/><circle class="n" cx="142.0" cy="744.0" r="3.3"/><circle class="n" cx="162.5" cy="735.0" r="3.3"/><circle class="n" cx="119.9" cy="750.0" r="3.3"/><circle class="n" cx="126.0" cy="751.0" r="3.3"/><circle class="n" cx="134.9" cy="751.0" r="3.3"/><circle class="n" cx="139.0" cy="757.0" r="3.3"/><circle class="n" cx="149.9" cy="757.0" r="3.3"/><circle class="n" cx="154.0" cy="752.0" r="3.3"/><circle class="n" cx="99.0" cy="758.0" r="3.3"/><circle class="n" cx="163.5" cy="735.0" r="3.3"/><circle class="n" cx="187.7" cy="731.5" r="3.3"/><circle class="n" cx="190.0" cy="736.0" r="3.3"/><circle class="n" cx="194.6" cy="733.8" r="3.3"/><circle class="n" cx="201.0" cy="735.0" r="3.3"/><circle class="n" cx="206.2" cy="732.7" r="3.3"/><circle class="n" cx="212.0" cy="736.2" r="3.3"/><circle class="n" cx="217.0" cy="736.0" r="3.3"/><circle class="n" cx="222.3" cy="738.5" r="3.3"/><circle class="n" cx="228.0" cy="731.5" r="3.3"/><circle class="n" cx="227.0" cy="738.0" r="3.3"/><circle class="n" cx="231.0" cy="740.0" r="3.3"/><circle class="n" cx="252.3" cy="735.0" r="3.3"/><circle class="n" cx="257.0" cy="738.5" r="3.3"/><circle class="n" cx="261.0" cy="734.0" r="3.3"/><circle class="n" cx="266.2" cy="731.5" r="3.3"/><circle class="n" cx="173.8" cy="736.2" r="3.3"/><circle class="n" cx="176.2" cy="740.8" r="3.3"/><circle class="n" cx="176.2" cy="746.5" r="3.3"/><circle class="n" cx="179.6" cy="745.4" r="3.3"/><circle class="n" cx="188.8" cy="757.4" r="3.3"/><circle class="n" cx="205.0" cy="755.8" r="3.3"/><circle class="n" cx="225.8" cy="747.7" r="3.3"/><circle class="n" cx="229.2" cy="752.0" r="3.3"/><circle class="n" cx="235.0" cy="745.0" r="3.3"/><circle class="n" cx="240.0" cy="742.0" r="3.3"/><circle class="n" cx="244.0" cy="744.0" r="3.3"/><circle class="n" cx="248.0" cy="741.0" r="3.3"/><circle class="n" cx="252.0" cy="744.0" r="3.3"/><circle class="n" cx="256.0" cy="740.0" r="3.3"/><circle class="n" cx="240.0" cy="748.0" r="3.3"/><circle class="n" cx="246.0" cy="749.0" r="3.3"/><circle class="n" cx="237.0" cy="753.0" r="3.3"/><circle class="n" cx="253.0" cy="739.2" r="3.3"/><circle class="n" cx="253.0" cy="717.0" r="3.3"/><circle class="n" cx="280.0" cy="725.0" r="3.3"/><circle class="n" cx="285.0" cy="724.0" r="3.3"/><circle class="n" cx="290.0" cy="726.0" r="3.3"/><circle class="n" cx="292.0" cy="731.0" r="3.3"/><circle class="n" cx="287.0" cy="733.0" r="3.3"/><circle class="n" cx="295.4" cy="738.8" r="3.3"/><circle class="n" cx="297.3" cy="742.7" r="3.3"/><circle class="n" cx="296.3" cy="746.5" r="3.3"/><circle class="n" cx="297.3" cy="730.2" r="3.3"/><circle class="n" cx="302.0" cy="729.2" r="3.3"/><circle class="n" cx="283.8" cy="748.5" r="3.3"/><circle class="n" cx="260.8" cy="738.8" r="3.3"/><circle class="n" cx="257.0" cy="735.0" r="3.3"/><circle class="n" cx="260.8" cy="732.1" r="3.3"/><circle class="n" cx="264.6" cy="730.2" r="3.3"/><circle class="n" cx="269.4" cy="727.3" r="3.3"/><circle class="n" cx="273.3" cy="723.5" r="3.3"/><circle class="n" cx="287.7" cy="712.9" r="3.3"/><circle class="n" cx="77.1" cy="739.5" r="3.3"/><circle class="n" cx="79.7" cy="726.0" r="3.3"/><circle class="n" cx="69.0" cy="741.4" r="3.3"/><circle class="n" cx="55.7" cy="721.0" r="3.3"/><circle class="n" cx="90.9" cy="738.4" r="3.3"/><circle class="n" cx="86.5" cy="742.0" r="3.3"/><circle class="n" cx="59.4" cy="728.5" r="3.3"/><circle class="n" cx="62.3" cy="732.1" r="3.3"/><circle class="n" cx="91.8" cy="721.5" r="3.3"/><circle class="n" cx="48.9" cy="723.3" r="3.3"/><circle class="n" cx="74.6" cy="745.7" r="3.3"/><circle class="n" cx="47.7" cy="730.8" r="3.3"/><circle class="n" cx="92.0" cy="747.5" r="3.3"/><circle class="n" cx="66.8" cy="722.9" r="3.3"/><circle class="n" cx="110.0" cy="721.2" r="3.3"/><circle class="n" cx="105.4" cy="730.4" r="3.3"/><circle class="n" cx="91.5" cy="730.4" r="3.3"/><circle class="n" cx="91.5" cy="722.7" r="3.3"/><circle class="n" cx="115.4" cy="724.2" r="3.3"/><circle class="n" cx="136.2" cy="731.2" r="3.3"/><circle class="n" cx="163.0" cy="735.0" r="3.3"/><circle class="n" cx="95.0" cy="738.0" r="3.3"/><circle class="n" cx="97.0" cy="745.0" r="3.3"/><circle class="n" cx="95.0" cy="752.0" r="3.3"/><circle class="n" cx="100.0" cy="757.0" r="3.3"/><circle class="n" cx="104.0" cy="742.0" r="3.3"/><circle class="n" cx="108.0" cy="747.0" r="3.3"/><circle class="n" cx="112.0" cy="740.0" r="3.3"/><circle class="n" cx="116.0" cy="745.0" r="3.3"/><circle class="n" cx="120.0" cy="740.0" r="3.3"/><circle class="n" cx="104.0" cy="752.0" r="3.3"/><circle class="n" cx="110.0" cy="755.0" r="3.3"/><circle class="n" cx="115.0" cy="752.0" r="3.3"/><circle class="n" cx="118.0" cy="757.0" r="3.3"/><circle class="n" cx="122.0" cy="750.0" r="3.3"/><circle class="n" cx="99.0" cy="748.0" r="3.3"/><circle class="n" cx="107.0" cy="738.0" r="3.3"/><circle class="n" cx="113.0" cy="758.0" r="3.3"/><circle class="n" cx="125.0" cy="737.0" r="3.3"/><circle class="n" cx="129.0" cy="742.0" r="3.3"/><circle class="n" cx="133.0" cy="738.0" r="3.3"/><circle class="n" cx="137.0" cy="744.0" r="3.3"/><circle class="n" cx="141.0" cy="740.0" r="3.3"/><circle class="n" cx="131.0" cy="748.0" r="3.3"/><circle class="n" cx="138.0" cy="751.0" r="3.3"/><circle class="n" cx="127.0" cy="752.0" r="3.3"/><circle class="n" cx="143.0" cy="747.0" r="3.3"/><circle class="n" cx="139.2" cy="736.5" r="3.3"/><circle class="n" cx="136.0" cy="750.4" r="3.3"/><circle class="n" cx="133.0" cy="752.0" r="3.3"/><circle class="n" cx="150.0" cy="748.0" r="3.3"/><circle class="n" cx="154.0" cy="752.0" r="3.3"/><circle class="n" cx="148.0" cy="755.0" r="3.3"/><circle class="n" cx="156.0" cy="746.0" r="3.3"/><circle class="n" cx="153.0" cy="756.5" r="3.3"/><circle class="n" cx="286.1" cy="756.2" r="3.3"/><circle class="n" cx="510.2" cy="749.1" r="3.3"/><circle class="n" cx="315.0" cy="748.2" r="3.3"/><circle class="n" cx="341.4" cy="756.8" r="3.3"/><circle class="n" cx="296.7" cy="757.3" r="3.3"/><circle class="n" cx="484.3" cy="756.8" r="3.3"/><circle class="n" cx="431.5" cy="756.5" r="3.3"/><circle class="n" cx="502.2" cy="751.0" r="3.3"/><circle class="n" cx="357.5" cy="756.8" r="3.3"/><circle class="n" cx="370.6" cy="754.9" r="3.3"/><circle class="n" cx="442.7" cy="749.7" r="3.3"/><circle class="n" cx="369.6" cy="755.7" r="3.3"/><circle class="n" cx="382.4" cy="752.6" r="3.3"/><circle class="n" cx="505.2" cy="757.4" r="3.3"/><circle class="n" cx="353.1" cy="748.7" r="3.3"/><circle class="n" cx="448.9" cy="757.9" r="3.3"/><circle class="n" cx="426.2" cy="759.7" r="3.3"/><circle class="n" cx="425.1" cy="751.7" r="3.3"/><circle class="n" cx="491.9" cy="752.5" r="3.3"/><circle class="n" cx="425.2" cy="758.8" r="3.3"/><circle class="n" cx="351.0" cy="748.0" r="3.3"/><circle class="n" cx="383.4" cy="755.0" r="3.3"/><circle class="n" cx="491.8" cy="748.5" r="3.3"/><circle class="n" cx="474.1" cy="758.4" r="3.3"/><circle class="n" cx="348.8" cy="758.2" r="3.3"/><circle class="n" cx="444.5" cy="759.0" r="3.3"/><circle class="n" cx="304.8" cy="754.6" r="3.3"/><circle class="n" cx="331.7" cy="757.0" r="3.3"/><circle class="n" cx="339.5" cy="755.3" r="3.3"/><circle class="n" cx="393.4" cy="750.5" r="3.3"/><circle class="n" cx="460.0" cy="757.5" r="3.3"/><circle class="n" cx="305.4" cy="757.7" r="3.3"/><circle class="n" cx="339.3" cy="755.0" r="3.3"/><circle class="n" cx="491.2" cy="754.3" r="3.3"/><circle class="n" cx="422.3" cy="750.3" r="3.3"/><circle class="n" cx="327.1" cy="756.4" r="3.3"/><circle class="n" cx="416.5" cy="752.8" r="3.3"/><circle class="n" cx="319.7" cy="748.5" r="3.3"/><circle class="n" cx="372.2" cy="749.3" r="3.3"/><circle class="n" cx="468.5" cy="749.9" r="3.3"/><circle class="n" cx="292.8" cy="759.9" r="3.3"/><circle class="n" cx="398.3" cy="754.8" r="3.3"/><circle class="n" cx="466.6" cy="753.1" r="3.3"/><circle class="n" cx="463.8" cy="757.8" r="3.3"/><circle class="n" cx="344.2" cy="748.5" r="3.3"/><circle class="n" cx="414.9" cy="758.4" r="3.3"/><circle class="n" cx="424.3" cy="752.8" r="3.3"/><circle class="n" cx="508.5" cy="751.1" r="3.3"/><circle class="n" cx="434.3" cy="759.5" r="3.3"/><circle class="n" cx="376.6" cy="753.4" r="3.3"/><circle class="n" cx="510.0" cy="759.9" r="3.3"/><circle class="n" cx="294.0" cy="751.1" r="3.3"/><circle class="n" cx="495.3" cy="758.9" r="3.3"/><circle class="n" cx="296.0" cy="757.4" r="3.3"/><circle class="n" cx="318.7" cy="757.1" r="3.3"/><circle class="n" cx="442.7" cy="751.6" r="3.3"/><circle class="n" cx="461.6" cy="749.3" r="3.3"/><circle class="n" cx="344.9" cy="749.5" r="3.3"/><circle class="n" cx="324.3" cy="750.9" r="3.3"/><circle class="n" cx="442.9" cy="748.2" r="3.3"/><circle class="n" cx="330.5" cy="748.4" r="3.3"/><circle class="n" cx="336.4" cy="759.2" r="3.3"/><circle class="n" cx="492.1" cy="749.7" r="3.3"/><circle class="n" cx="307.6" cy="759.1" r="3.3"/><circle class="n" cx="431.4" cy="753.4" r="3.3"/><circle class="n" cx="476.8" cy="753.7" r="3.3"/><circle class="n" cx="451.3" cy="754.6" r="3.3"/><circle class="n" cx="487.9" cy="751.2" r="3.3"/><circle class="n" cx="321.3" cy="751.3" r="3.3"/><circle class="n" cx="362.9" cy="750.0" r="3.3"/><circle class="n" cx="359.1" cy="758.8" r="3.3"/><circle class="n" cx="513.0" cy="748.7" r="3.3"/><circle class="n" cx="440.7" cy="750.5" r="3.3"/><circle class="n" cx="351.7" cy="751.1" r="3.3"/><circle class="n" cx="369.9" cy="759.9" r="3.3"/><circle class="n" cx="500.5" cy="749.2" r="3.3"/><circle class="n" cx="493.8" cy="748.7" r="3.3"/><circle class="n" cx="473.0" cy="752.1" r="3.3"/><circle class="n" cx="285.4" cy="758.0" r="3.3"/><circle class="n" cx="328.3" cy="753.2" r="3.3"/><circle class="n" cx="335.9" cy="754.9" r="3.3"/><circle class="n" cx="327.0" cy="757.2" r="3.3"/><circle class="n" cx="330.8" cy="749.0" r="3.3"/><circle class="n" cx="426.8" cy="753.9" r="3.3"/><circle class="n" cx="333.0" cy="755.3" r="3.3"/><circle class="n" cx="474.1" cy="755.0" r="3.3"/><circle class="n" cx="300.3" cy="756.8" r="3.3"/><circle class="n" cx="453.1" cy="748.7" r="3.3"/><circle class="n" cx="363.1" cy="758.1" r="3.3"/><circle class="n" cx="399.9" cy="748.2" r="3.3"/><circle class="n" cx="396.1" cy="758.5" r="3.3"/><circle class="n" cx="328.4" cy="758.0" r="3.3"/><circle class="n" cx="323.1" cy="752.5" r="3.3"/><circle class="n" cx="286.1" cy="754.2" r="3.3"/><circle class="n" cx="405.1" cy="749.4" r="3.3"/><circle class="n" cx="475.3" cy="758.4" r="3.3"/><circle class="n" cx="450.7" cy="752.6" r="3.3"/><circle class="n" cx="299.3" cy="758.5" r="3.3"/><circle class="n" cx="400.3" cy="754.2" r="3.3"/><circle class="n" cx="410.2" cy="748.2" r="3.3"/><circle class="n" cx="337.1" cy="750.2" r="3.3"/><circle class="n" cx="307.5" cy="756.4" r="3.3"/><circle class="n" cx="289.1" cy="755.2" r="3.3"/><circle class="n" cx="406.8" cy="756.4" r="3.3"/><circle class="n" cx="313.7" cy="753.9" r="3.3"/><circle class="n" cx="350.2" cy="749.5" r="3.3"/><circle class="n" cx="316.9" cy="755.1" r="3.3"/><circle class="n" cx="319.3" cy="754.9" r="3.3"/><circle class="n" cx="323.3" cy="757.9" r="3.3"/><circle class="n" cx="375.6" cy="753.0" r="3.3"/><circle class="n" cx="407.5" cy="752.7" r="3.3"/><circle class="n" cx="466.0" cy="752.1" r="3.3"/><circle class="n" cx="363.1" cy="753.2" r="3.3"/><circle class="n" cx="472.4" cy="759.0" r="3.3"/><circle class="n" cx="482.5" cy="748.6" r="3.3"/><circle class="n" cx="508.2" cy="759.2" r="3.3"/><circle class="n" cx="383.4" cy="755.6" r="3.3"/><circle class="n" cx="408.7" cy="748.8" r="3.3"/><circle class="n" cx="402.6" cy="748.2" r="3.3"/><circle class="n" cx="510.9" cy="757.3" r="3.3"/><circle class="n" cx="432.5" cy="757.7" r="3.3"/><circle class="n" cx="491.1" cy="748.4" r="3.3"/><circle class="n" cx="346.9" cy="756.1" r="3.3"/><circle class="n" cx="411.3" cy="759.1" r="3.3"/><circle class="n" cx="343.4" cy="754.2" r="3.3"/><circle class="n" cx="506.6" cy="751.5" r="3.3"/><circle class="n" cx="435.9" cy="749.4" r="3.3"/><circle class="n" cx="507.8" cy="754.2" r="3.3"/><circle class="n" cx="393.7" cy="754.4" r="3.3"/><circle class="n" cx="313.9" cy="749.6" r="3.3"/><circle class="n" cx="379.7" cy="751.5" r="3.3"/><circle class="n" cx="305.5" cy="754.6" r="3.3"/><circle class="n" cx="427.1" cy="754.8" r="3.3"/><circle class="n" cx="331.9" cy="756.5" r="3.3"/><circle class="n" cx="412.7" cy="755.4" r="3.3"/><circle class="n" cx="357.3" cy="750.9" r="3.3"/><circle class="n" cx="404.4" cy="752.6" r="3.3"/><circle class="n" cx="287.8" cy="752.2" r="3.3"/><circle class="n" cx="352.0" cy="744.7" r="3.3"/><circle class="n" cx="362.1" cy="749.9" r="3.3"/><circle class="n" cx="384.6" cy="743.3" r="3.3"/><circle class="n" cx="323.8" cy="740.7" r="3.3"/><circle class="n" cx="461.0" cy="739.9" r="3.3"/><circle class="n" cx="376.8" cy="746.1" r="3.3"/><circle class="n" cx="485.3" cy="747.9" r="3.3"/><circle class="n" cx="461.1" cy="746.9" r="3.3"/><circle class="n" cx="403.6" cy="747.4" r="3.3"/><circle class="n" cx="499.4" cy="739.5" r="3.3"/><circle class="n" cx="300.9" cy="747.2" r="3.3"/><circle class="n" cx="408.5" cy="749.6" r="3.3"/><circle class="n" cx="391.1" cy="747.4" r="3.3"/><circle class="n" cx="432.4" cy="742.6" r="3.3"/><circle class="n" cx="399.8" cy="746.7" r="3.3"/><circle class="n" cx="385.2" cy="744.7" r="3.3"/><circle class="n" cx="370.2" cy="747.4" r="3.3"/><circle class="n" cx="408.9" cy="743.3" r="3.3"/><circle class="n" cx="366.3" cy="739.7" r="3.3"/><circle class="n" cx="426.8" cy="739.1" r="3.3"/><circle class="n" cx="370.6" cy="748.1" r="3.3"/><circle class="n" cx="509.0" cy="740.5" r="3.3"/><circle class="n" cx="423.2" cy="744.0" r="3.3"/><circle class="n" cx="468.6" cy="744.5" r="3.3"/><circle class="n" cx="412.8" cy="744.2" r="3.3"/><circle class="n" cx="384.9" cy="742.3" r="3.3"/><circle class="n" cx="376.5" cy="749.4" r="3.3"/><circle class="n" cx="414.5" cy="739.2" r="3.3"/><circle class="n" cx="387.4" cy="744.7" r="3.3"/><circle class="n" cx="491.8" cy="749.6" r="3.3"/><circle class="n" cx="396.0" cy="745.5" r="3.3"/><circle class="n" cx="374.8" cy="744.4" r="3.3"/><circle class="n" cx="337.2" cy="741.8" r="3.3"/><circle class="n" cx="480.1" cy="744.2" r="3.3"/><circle class="n" cx="495.0" cy="746.3" r="3.3"/><circle class="n" cx="515.9" cy="748.7" r="3.3"/><circle class="n" cx="334.1" cy="741.5" r="3.3"/><circle class="n" cx="410.1" cy="740.3" r="3.3"/><circle class="n" cx="437.4" cy="745.2" r="3.3"/><circle class="n" cx="389.7" cy="747.5" r="3.3"/><circle class="n" cx="450.6" cy="738.0" r="3.3"/><circle class="n" cx="483.6" cy="745.0" r="3.3"/><circle class="n" cx="342.9" cy="744.0" r="3.3"/><circle class="n" cx="358.0" cy="745.8" r="3.3"/><circle class="n" cx="517.4" cy="744.9" r="3.3"/><circle class="n" cx="326.5" cy="739.9" r="3.3"/><circle class="n" cx="323.2" cy="739.2" r="3.3"/><circle class="n" cx="413.9" cy="747.9" r="3.3"/><circle class="n" cx="468.0" cy="741.9" r="3.3"/><circle class="n" cx="377.1" cy="740.0" r="3.3"/><circle class="n" cx="321.7" cy="748.8" r="3.3"/><circle class="n" cx="376.1" cy="743.4" r="3.3"/><circle class="n" cx="311.9" cy="748.7" r="3.3"/><circle class="n" cx="509.2" cy="743.3" r="3.3"/><circle class="n" cx="354.4" cy="738.5" r="3.3"/><circle class="n" cx="486.3" cy="741.8" r="3.3"/><circle class="n" cx="477.9" cy="741.6" r="3.3"/><circle class="n" cx="509.3" cy="743.9" r="3.3"/><circle class="n" cx="353.0" cy="742.7" r="3.3"/><circle class="n" cx="348.3" cy="741.7" r="3.3"/><circle class="n" cx="405.6" cy="747.5" r="3.3"/><circle class="n" cx="337.8" cy="742.3" r="3.3"/><circle class="n" cx="511.8" cy="741.5" r="3.3"/><circle class="n" cx="325.0" cy="744.4" r="3.3"/><circle class="n" cx="387.9" cy="738.8" r="3.3"/><circle class="n" cx="480.0" cy="742.2" r="3.3"/><circle class="n" cx="341.7" cy="741.4" r="3.3"/><circle class="n" cx="307.6" cy="746.0" r="3.3"/><circle class="n" cx="334.0" cy="746.5" r="3.3"/><circle class="n" cx="358.8" cy="748.0" r="3.3"/><circle class="n" cx="396.6" cy="748.0" r="3.3"/><circle class="n" cx="334.7" cy="742.2" r="3.3"/><circle class="n" cx="382.2" cy="749.5" r="3.3"/><circle class="n" cx="507.3" cy="744.1" r="3.3"/><circle class="n" cx="398.7" cy="739.6" r="3.3"/><circle class="n" cx="356.8" cy="748.8" r="3.3"/><circle class="n" cx="380.2" cy="741.0" r="3.3"/><circle class="n" cx="346.3" cy="748.5" r="3.3"/><circle class="n" cx="411.8" cy="744.5" r="3.3"/><circle class="n" cx="468.2" cy="742.6" r="3.3"/><circle class="n" cx="423.8" cy="741.7" r="3.3"/><circle class="n" cx="318.8" cy="740.1" r="3.3"/><circle class="n" cx="370.0" cy="746.0" r="3.3"/><circle class="n" cx="422.5" cy="742.3" r="3.3"/><circle class="n" cx="364.7" cy="738.8" r="3.3"/><circle class="n" cx="349.4" cy="739.5" r="3.3"/><circle class="n" cx="361.6" cy="742.8" r="3.3"/><circle class="n" cx="468.9" cy="748.6" r="3.3"/><circle class="n" cx="448.2" cy="746.0" r="3.3"/><circle class="n" cx="389.9" cy="745.9" r="3.3"/><circle class="n" cx="354.2" cy="748.2" r="3.3"/><circle class="n" cx="437.1" cy="740.2" r="3.3"/><circle class="n" cx="499.0" cy="746.8" r="3.3"/><circle class="n" cx="308.8" cy="738.5" r="3.3"/><circle class="n" cx="343.2" cy="741.6" r="3.3"/><circle class="n" cx="308.6" cy="741.7" r="3.3"/><circle class="n" cx="339.2" cy="748.1" r="3.3"/><circle class="n" cx="456.2" cy="741.1" r="3.3"/><circle class="n" cx="481.9" cy="747.3" r="3.3"/><circle class="n" cx="309.4" cy="748.2" r="3.3"/><circle class="n" cx="310.3" cy="740.9" r="3.3"/><circle class="n" cx="472.5" cy="740.5" r="3.3"/><circle class="n" cx="463.4" cy="739.0" r="3.3"/><circle class="n" cx="343.6" cy="742.2" r="3.3"/><circle class="n" cx="336.9" cy="735.0" r="3.3"/><circle class="n" cx="345.4" cy="744.2" r="3.3"/><circle class="n" cx="364.3" cy="743.1" r="3.3"/><circle class="n" cx="347.2" cy="734.6" r="3.3"/><circle class="n" cx="345.7" cy="739.6" r="3.3"/><circle class="n" cx="362.2" cy="742.9" r="3.3"/><circle class="n" cx="352.8" cy="744.7" r="3.3"/><circle class="n" cx="352.6" cy="736.7" r="3.3"/><circle class="n" cx="341.5" cy="738.5" r="3.3"/><circle class="n" cx="338.6" cy="735.5" r="3.3"/><circle class="n" cx="360.2" cy="736.6" r="3.3"/><circle class="n" cx="350.9" cy="738.9" r="3.3"/><circle class="n" cx="341.1" cy="737.3" r="3.3"/><circle class="n" cx="328.5" cy="740.2" r="3.3"/><circle class="n" cx="368.9" cy="740.0" r="3.3"/><circle class="n" cx="330.2" cy="741.3" r="3.3"/><circle class="n" cx="347.7" cy="742.4" r="3.3"/><circle class="n" cx="326.9" cy="737.2" r="3.3"/><circle class="n" cx="332.4" cy="734.7" r="3.3"/><circle class="n" cx="331.8" cy="741.7" r="3.3"/><circle class="n" cx="326.8" cy="737.6" r="3.3"/><circle class="n" cx="341.8" cy="735.8" r="3.3"/><circle class="n" cx="320.6" cy="744.9" r="3.3"/><circle class="n" cx="424.2" cy="738.0" r="3.3"/><circle class="n" cx="448.2" cy="729.5" r="3.3"/><circle class="n" cx="441.7" cy="730.7" r="3.3"/><circle class="n" cx="420.4" cy="740.9" r="3.3"/><circle class="n" cx="451.4" cy="741.1" r="3.3"/><circle class="n" cx="432.6" cy="731.4" r="3.3"/><circle class="n" cx="421.4" cy="738.8" r="3.3"/><circle class="n" cx="434.8" cy="730.6" r="3.3"/><circle class="n" cx="462.3" cy="741.0" r="3.3"/><circle class="n" cx="459.2" cy="739.6" r="3.3"/><circle class="n" cx="436.3" cy="730.6" r="3.3"/><circle class="n" cx="436.0" cy="733.2" r="3.3"/><circle class="n" cx="438.5" cy="739.6" r="3.3"/><circle class="n" cx="422.1" cy="735.9" r="3.3"/><circle class="n" cx="461.0" cy="737.9" r="3.3"/><circle class="n" cx="467.2" cy="734.9" r="3.3"/><circle class="n" cx="427.9" cy="732.2" r="3.3"/><circle class="n" cx="424.0" cy="737.6" r="3.3"/><circle class="n" cx="442.2" cy="741.6" r="3.3"/><circle class="n" cx="422.0" cy="734.2" r="3.3"/><circle class="n" cx="232.3" cy="755.0" r="3.3"/><circle class="n" cx="245.5" cy="759.7" r="3.3"/><circle class="n" cx="188.3" cy="759.0" r="3.3"/><circle class="n" cx="202.1" cy="757.0" r="3.3"/><circle class="n" cx="226.6" cy="760.0" r="3.3"/><circle class="n" cx="176.4" cy="756.8" r="3.3"/><circle class="n" cx="168.5" cy="756.9" r="3.3"/><circle class="n" cx="257.1" cy="760.5" r="3.3"/><circle class="n" cx="257.4" cy="760.8" r="3.3"/><circle class="n" cx="241.1" cy="755.4" r="3.3"/><circle class="n" cx="220.9" cy="756.8" r="3.3"/><circle class="b" cx="285.8" cy="578.0" r="3.3"/><circle class="b" cx="267.4" cy="602.2" r="3.3"/><circle class="b" cx="278.0" cy="608.0" r="3.3"/><circle class="b" cx="284.2" cy="632.0" r="3.3"/><circle class="b" cx="119.9" cy="683.5" r="3.3"/><circle class="b" cx="134.9" cy="693.9" r="3.3"/><circle class="b" cx="139.5" cy="693.4" r="3.3"/><circle class="b" cx="149.9" cy="698.0" r="3.3"/><circle class="b" cx="156.3" cy="696.2" r="3.3"/><circle class="b" cx="161.4" cy="695.0" r="3.3"/><circle class="b" cx="164.2" cy="694.3" r="3.3"/><circle class="b" cx="273.0" cy="647.2" r="3.3"/><circle class="b" cx="221.2" cy="681.8" r="3.3"/><circle class="b" cx="213.0" cy="687.0" r="3.3"/><circle class="b" cx="207.3" cy="683.5" r="3.3"/><circle class="b" cx="202.7" cy="683.5" r="3.3"/><circle class="b" cx="194.6" cy="685.8" r="3.3"/><circle class="b" cx="191.0" cy="687.0" r="3.3"/><circle class="b" cx="187.2" cy="689.2" r="3.3"/><circle class="b" cx="182.0" cy="688.0" r="3.3"/><circle class="b" cx="176.6" cy="688.0" r="3.3"/><circle class="b" cx="172.7" cy="692.7" r="3.3"/><circle class="b" cx="164.6" cy="695.0" r="3.3"/><circle class="b" cx="169.2" cy="697.3" r="3.3"/><circle class="b" cx="284.2" cy="631.0" r="3.3"/><circle class="b" cx="283.5" cy="641.2" r="3.3"/><circle class="b" cx="149.2" cy="698.3" r="3.3"/><circle class="b" cx="146.3" cy="705.8" r="3.3"/><circle class="b" cx="155.6" cy="696.0" r="3.3"/><circle class="b" cx="159.6" cy="696.5" r="3.3"/><circle class="b" cx="163.0" cy="694.8" r="3.3"/><circle class="b" cx="165.4" cy="696.0" r="3.3"/><circle class="b" cx="172.3" cy="692.5" r="3.3"/><circle class="b" cx="174.0" cy="698.3" r="3.3"/><circle class="b" cx="176.9" cy="687.9" r="3.3"/><circle class="b" cx="181.5" cy="688.5" r="3.3"/><circle class="b" cx="256.5" cy="726.5" r="3.3"/><circle class="b" cx="255.8" cy="726.2" r="3.3"/><circle class="b" cx="121.0" cy="728.0" r="3.3"/><circle class="b" cx="119.9" cy="733.8" r="3.3"/><circle class="b" cx="128.0" cy="730.4" r="3.3"/><circle class="b" cx="113.0" cy="755.0" r="3.3"/><circle class="b" cx="288.2" cy="742.3" r="3.3"/><circle class="b" cx="264.6" cy="750.0" r="3.3"/><circle class="g" cx="284.7" cy="597.4" r="3.3"/><circle class="g" cx="268.0" cy="607.3" r="3.3"/><circle class="g" cx="265.8" cy="609.6" r="3.3"/><circle class="g" cx="282.0" cy="610.8" r="3.3"/><circle class="g" cx="273.4" cy="612.6" r="3.3"/><circle class="g" cx="270.4" cy="610.3" r="3.3"/><circle class="g" cx="278.5" cy="616.5" r="3.3"/><circle class="g" cx="273.8" cy="618.8" r="3.3"/><circle class="g" cx="276.2" cy="621.8" r="3.3"/><circle class="g" cx="282.0" cy="623.5" r="3.3"/><circle class="g" cx="227.2" cy="619.5" r="3.3"/><circle class="g" cx="227.2" cy="624.6" r="3.3"/><circle class="g" cx="239.2" cy="621.2" r="3.3"/><circle class="g" cx="245.7" cy="623.5" r="3.3"/><circle class="g" cx="255.0" cy="625.8" r="3.3"/><circle class="g" cx="257.7" cy="621.8" r="3.3"/><circle class="g" cx="263.5" cy="621.2" r="3.3"/><circle class="g" cx="261.8" cy="626.5" r="3.3"/><circle class="g" cx="260.0" cy="630.4" r="3.3"/><circle class="g" cx="262.3" cy="633.4" r="3.3"/><circle class="g" cx="228.8" cy="639.6" r="3.3"/><circle class="g" cx="123.3" cy="663.8" r="3.3"/><circle class="g" cx="133.7" cy="665.7" r="3.3"/><circle class="g" cx="133.2" cy="669.6" r="3.3"/><circle class="g" cx="138.3" cy="677.7" r="3.3"/><circle class="g" cx="196.5" cy="643.0" r="3.3"/><circle class="g" cx="223.5" cy="645.4" r="3.3"/><circle class="g" cx="229.2" cy="642.0" r="3.3"/><circle class="g" cx="281.0" cy="623.5" r="3.3"/><circle class="g" cx="125.6" cy="756.5" r="3.3"/><circle class="g" cx="145.2" cy="757.0" r="3.3"/><circle class="g" cx="158.0" cy="751.0" r="3.3"/><circle class="g" cx="162.5" cy="753.5" r="3.3"/><circle class="g" cx="165.0" cy="749.0" r="3.3"/><circle class="g" cx="164.6" cy="750.0" r="3.3"/><circle class="g" cx="185.4" cy="750.0" r="3.3"/><circle class="g" cx="188.8" cy="750.5" r="3.3"/><circle class="g" cx="193.5" cy="750.0" r="3.3"/><circle class="g" cx="197.0" cy="750.0" r="3.3"/><circle class="g" cx="202.7" cy="750.0" r="3.3"/><circle class="g" cx="206.2" cy="752.0" r="3.3"/><circle class="g" cx="209.6" cy="750.0" r="3.3"/><circle class="g" cx="214.2" cy="752.0" r="3.3"/><circle class="g" cx="217.7" cy="756.0" r="3.3"/><circle class="g" cx="213.0" cy="754.6" r="3.3"/><circle class="g" cx="233.8" cy="752.3" r="3.3"/><circle class="g" cx="242.0" cy="751.2" r="3.3"/><circle class="g" cx="248.8" cy="750.5" r="3.3"/><circle class="g" cx="254.6" cy="749.5" r="3.3"/><circle class="g" cx="250.0" cy="757.0" r="3.3"/><circle class="g" cx="163.5" cy="754.6" r="3.3"/><circle class="g" cx="167.0" cy="750.0" r="3.3"/><circle class="g" cx="254.6" cy="749.2" r="3.3"/><circle class="g" cx="252.0" cy="753.0" r="3.3"/><circle class="g" cx="126.2" cy="756.5" r="3.3"/><circle class="g" cx="144.6" cy="757.3" r="3.3"/><circle class="g" cx="157.7" cy="751.2" r="3.3"/><circle class="g" cx="161.5" cy="755.0" r="3.3"/><circle class="g" cx="165.4" cy="749.6" r="3.3"/><circle class="o" cx="259.7" cy="719.5" r="3.3"/><circle class="o" cx="146.4" cy="728.0" r="3.3"/><circle class="o" cx="148.7" cy="738.0" r="3.3"/><circle class="r" cx="282.0" cy="718.5" r="3.3"/><circle class="r" cx="278.6" cy="730.2" r="3.3"/><circle class="r" cx="285.8" cy="736.0" r="3.3"/><circle class="r" cx="274.2" cy="739.8" r="3.3"/><circle class="r" cx="281.0" cy="740.8" r="3.3"/><circle class="r" cx="264.6" cy="743.7" r="3.3"/><circle class="r" cx="273.3" cy="745.6" r="3.3"/><circle class="r" cx="271.3" cy="749.4" r="3.3"/><circle class="r" cx="274.2" cy="752.3" r="3.3"/><circle class="r" cx="267.5" cy="754.2" r="3.3"/><circle class="r" cx="265.6" cy="757.1" r="3.3"/><circle class="r" cx="277.1" cy="755.2" r="3.3"/><circle class="r" cx="270.4" cy="756.2" r="3.3"/><circle class="r" cx="279.0" cy="751.3" r="3.3"/><circle class="r" cx="262.7" cy="755.2" r="3.3"/><circle class="r" cx="276.0" cy="735.0" r="3.3"/><circle class="r" cx="278.0" cy="745.0" r="3.3"/><circle class="r" cx="268.0" cy="747.0" r="3.3"/><circle class="r" cx="272.0" cy="758.0" r="3.3"/><circle class="r" cx="283.0" cy="745.0" r="3.3"/></g>
<polygon points="282.3,754.3 285.6,757.7 282.3,761.1 279,757.7" fill="#7a4aa6" stroke="#3b2262" stroke-width="0.8"/>
<text x="259.8" y="474.9" font-size="9.5" fill="#333" textLength="45.9" lengthAdjust="spacingAndGlyphs">rs3814113</text>
<rect x="473.3" y="457.2" width="40.4" height="95.0" fill="#fff" stroke="#888" stroke-width="0.9"/>
<rect x="479.9" y="474.0" width="9.2" height="14.8" fill="#e8101e"/>
<rect x="479.9" y="488.7" width="9.2" height="14.8" fill="#f8a81c"/>
<rect x="479.9" y="503.4" width="9.2" height="14.8" fill="#4cb848"/>
<rect x="479.9" y="518.2" width="9.2" height="14.8" fill="#8ec8f0"/>
<rect x="479.9" y="532.9" width="9.2" height="14.8" fill="#1c1c6c"/>
<line x1="489.1" y1="488.7" x2="493.6" y2="488.7" stroke="#555" stroke-width="0.9"/>
<text x="496.1" y="491.8" font-size="8.6" fill="#555">0.8</text>
<line x1="489.1" y1="503.4" x2="493.6" y2="503.4" stroke="#555" stroke-width="0.9"/>
<text x="496.1" y="506.5" font-size="8.6" fill="#555">0.6</text>
<line x1="489.1" y1="518.2" x2="493.6" y2="518.2" stroke="#555" stroke-width="0.9"/>
<text x="496.1" y="521.3" font-size="8.6" fill="#555">0.4</text>
<line x1="489.1" y1="532.9" x2="493.6" y2="532.9" stroke="#555" stroke-width="0.9"/>
<text x="496.1" y="536.0" font-size="8.6" fill="#555">0.2</text>
<text x="490.3" y="470.8" font-size="10" font-style="italic" fill="#333">r</text>
<text x="494.3" y="466.5" font-size="6.5" fill="#333">2</text>
<rect class="ax" x="46.5" y="782.5" width="471" height="18"/>
<line x1="47.5" y1="795.5" x2="179" y2="795.5" stroke="#444" stroke-width="0.9"/>
<line x1="179" y1="793.3" x2="179" y2="797.7" stroke="#444" stroke-width="0.9"/>
<line x1="49" y1="789.5" x2="57" y2="789.5" stroke="#333" stroke-width="0.8"/>
<polyline points="51,788.2 48.8,789.5 51,790.8" fill="none" stroke="#333" stroke-width="0.7"/>
<text x="58.4" y="792.5" font-size="8.6" font-style="italic" fill="#333">BNC2</text>
<line class="ax" x1="129.5" y1="801" x2="129.5" y2="806"/>
<text class="tl" x="129.5" y="823" text-anchor="middle">16.85</text>
<line class="ax" x1="247.4" y1="801" x2="247.4" y2="806"/>
<text class="tl" x="247.4" y="823" text-anchor="middle">16.9</text>
<line class="ax" x1="365.2" y1="801" x2="365.2" y2="806"/>
<text class="tl" x="365.2" y="823" text-anchor="middle">16.95</text>
<line class="ax" x1="483.0" y1="801" x2="483.0" y2="806"/>
<text class="tl" x="483.0" y="823" text-anchor="middle">17</text>
<text x="282.9" y="836.3" font-size="9.6" fill="#555" text-anchor="middle">Position on chr9 (Mb)</text>
</svg></body></html>
